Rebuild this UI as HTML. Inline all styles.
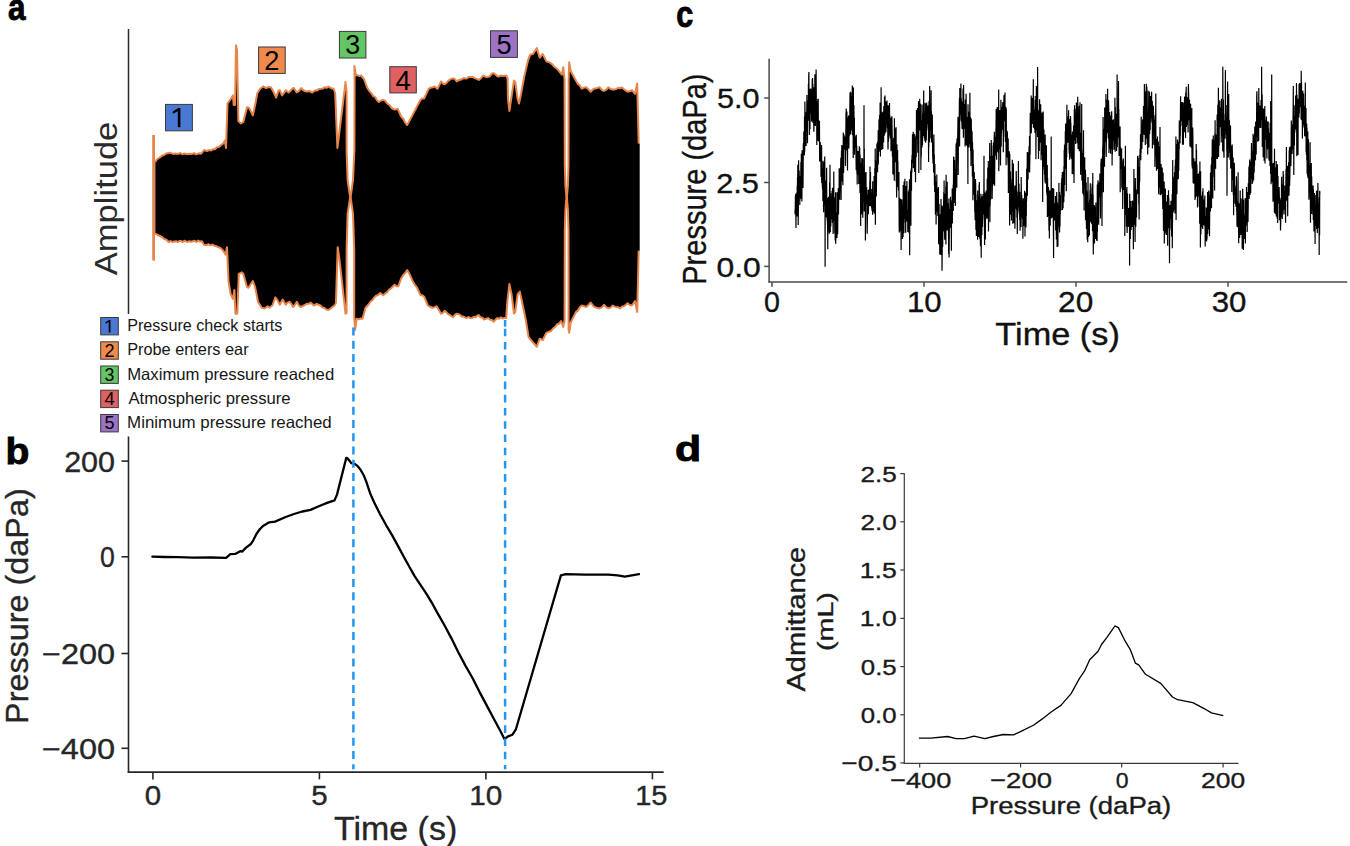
<!DOCTYPE html>
<html><head><meta charset="utf-8"><style>
html,body{margin:0;padding:0;background:#fff;}
svg{display:block;}
text{font-family:"Liberation Sans",sans-serif;}
</style></head><body>
<svg width="1350" height="846" viewBox="0 0 1350 846">
<rect width="1350" height="846" fill="#fff"/>
<polygon points="155.3,162.0 156.8,159.5 159.8,157.5 161.9,155.7 164.0,155.0 166.3,153.4 168.6,153.0 170.2,152.8 171.8,153.4 173.4,154.0 175.0,153.5 176.8,153.7 178.6,153.7 180.4,153.0 182.2,154.3 183.9,153.6 185.7,153.7 187.5,154.3 189.3,153.8 191.0,154.1 192.6,153.8 194.3,153.1 196.0,154.4 197.7,153.9 199.3,153.3 201.0,153.8 204.0,150.0 207.0,151.0 209.0,150.1 211.0,150.4 213.0,149.3 214.9,149.3 216.9,147.3 218.8,147.1 221.1,145.0 223.3,143.4 224.8,140.5 226.0,147.9 227.5,103.5 230.7,99.0 232.9,95.4 233.7,105.0 235.0,105.0 236.0,45.2 237.0,50.0 238.4,121.3 241.0,123.5 243.3,122.0 247.0,107.2 249.2,108.0 252.9,115.4 255.1,105.0 257.3,93.2 260.2,88.8 263.2,86.5 266.2,88.0 268.5,87.0 270.9,87.3 273.1,91.0 276.1,97.6 278.3,91.0 279.8,90.2 282.0,95.4 283.9,93.2 285.7,90.2 288.6,92.5 290.3,91.1 292.1,88.9 293.8,88.0 296.8,92.5 299.0,90.9 301.2,88.0 303.0,90.0 304.9,91.0 307.1,91.4 309.3,91.0 312.3,92.5 315.2,90.2 317.2,90.4 319.1,88.9 321.1,88.8 323.0,88.4 324.8,87.2 326.6,87.8 328.5,86.5 330.2,87.6 332.0,88.6 333.7,88.8 335.2,93.2 337.4,147.9 338.9,136.0 345.5,82.1 346.6,91.7 346.6,150.0 347.6,180.0 350.1,196.8 350.7,196.8 353.0,180.0 354.4,150.0 354.6,80.0 354.4,65.9 355.9,75.5 357.6,75.1 359.3,76.2 361.0,75.5 364.0,79.0 367.0,87.3 369.2,90.9 371.4,93.2 373.2,96.1 375.1,96.9 376.9,100.1 378.8,102.0 381.0,100.5 383.2,99.8 385.0,100.6 387.2,103.5 389.4,105.0 391.6,107.9 393.9,109.4 395.8,109.4 397.6,108.7 401.3,116.8 403.3,118.8 405.2,122.6 407.2,125.0 413.1,113.9 420.5,99.8 422.4,98.5 424.2,98.4 428.6,88.8 430.6,87.6 432.5,87.4 434.5,86.5 437.5,88.8 441.1,81.4 443.0,83.5 444.8,84.3 446.6,82.7 448.5,80.6 450.8,79.0 453.0,78.4 454.9,79.2 456.7,81.4 458.4,80.3 460.1,79.8 461.8,79.2 463.6,78.1 465.4,78.5 467.1,78.2 468.9,76.7 470.7,76.9 472.9,77.0 475.0,78.4 476.9,78.9 478.8,79.9 481.1,77.9 483.3,75.5 485.5,76.8 487.7,77.0 489.7,76.4 491.6,73.8 493.6,73.2 495.5,74.5 497.3,76.2 499.1,76.6 500.9,75.4 502.6,76.0 504.4,75.7 506.2,75.5 507.6,78.5 508.0,99.0 509.4,110.9 511.6,96.0 513.9,80.6 515.3,82.0 517.6,99.0 519.0,103.5 521.2,93.0 524.2,76.9 527.9,60.7 530.1,54.8 533.0,54.0 536.8,48.1 539.7,57.7 542.7,54.0 546.4,61.4 549.3,62.2 552.3,64.4 554.1,66.7 556.0,68.0 557.8,69.6 559.6,71.8 561.9,74.7 563.3,67.3 564.6,80.0 564.8,165.0 565.4,185.0 566.4,196.8 566.9,196.8 567.9,185.0 568.5,165.0 568.6,80.0 569.2,62.2 570.7,71.0 575.9,80.6 577.9,83.9 579.8,85.4 581.8,88.7 584.0,87.6 586.2,87.3 588.5,89.3 590.7,91.7 593.6,88.7 595.6,88.6 597.5,87.9 599.5,87.3 601.8,89.8 604.0,91.0 606.2,89.7 608.4,87.3 610.6,89.1 612.8,89.5 614.6,89.6 616.4,88.9 618.1,87.8 619.9,88.4 621.7,87.3 623.7,89.0 625.6,90.4 627.6,91.7 629.8,91.3 632.0,90.2 635.0,93.9 637.2,83.6 638.7,143.4 639.7,143.4 639.7,250.8 638.7,250.8 637.2,312.1 635.0,301.0 632.0,305.5 629.8,305.0 627.6,303.3 625.8,304.8 623.9,306.3 622.1,306.5 620.2,308.4 618.4,307.3 616.5,307.1 614.6,306.6 612.8,305.5 610.6,307.6 608.4,308.4 606.2,307.1 604.0,304.8 601.8,307.3 599.5,308.4 597.5,308.1 595.6,307.3 593.6,306.3 590.7,302.5 588.5,305.0 586.2,307.0 584.0,306.2 581.8,305.5 579.8,307.3 577.9,310.6 575.9,312.1 570.7,322.5 569.2,332.8 568.6,330.0 568.5,230.0 567.9,210.0 566.9,197.6 566.4,197.6 565.4,210.0 564.8,230.0 564.6,320.0 563.3,326.9 561.1,321.0 559.1,323.7 557.2,324.2 555.2,326.9 553.0,328.5 550.8,331.3 548.6,331.8 546.4,332.8 542.7,340.2 539.7,338.7 536.8,346.8 534.5,344.0 532.3,341.7 530.5,339.5 528.6,337.2 525.7,319.5 522.0,301.8 519.8,291.5 517.6,294.4 515.3,312.1 513.9,313.6 511.6,294.4 509.4,284.1 507.3,302.0 506.2,318.1 504.4,318.1 502.6,318.4 500.9,317.4 499.1,318.8 497.3,318.1 495.5,319.7 493.6,321.8 491.9,319.9 490.1,319.8 488.4,318.1 486.2,318.7 484.0,319.6 482.3,317.5 480.5,317.3 478.8,315.1 477.1,315.7 475.5,317.3 473.9,316.7 472.2,318.1 470.4,318.2 468.5,317.0 466.6,318.2 464.8,317.3 463.2,316.4 461.6,316.5 459.9,314.6 458.3,314.1 456.7,313.7 454.9,314.8 453.0,317.3 450.8,315.7 448.5,314.4 446.6,312.6 444.8,310.7 443.0,312.9 441.1,313.7 436.7,306.3 434.5,307.1 432.3,307.7 430.1,306.8 427.8,305.5 424.2,296.7 422.4,295.3 420.5,295.2 416.8,287.1 415.0,285.1 413.1,281.9 409.4,273.8 407.2,270.1 405.2,273.1 403.3,274.9 401.3,278.2 398.3,286.3 396.5,286.2 394.6,284.8 392.9,286.5 391.1,288.3 389.4,289.3 387.2,292.2 385.0,293.7 383.2,295.2 380.2,293.0 378.2,295.0 376.3,295.6 374.3,297.4 372.3,300.3 370.4,301.8 368.4,304.8 365.5,307.7 362.5,318.8 360.5,318.5 358.6,319.3 356.6,318.8 355.1,329.9 354.2,316.6 354.2,250.0 353.0,214.0 350.7,197.6 350.1,197.6 347.6,214.0 346.6,250.0 346.6,313.0 345.5,313.7 339.6,260.5 337.7,247.2 335.9,303.3 334.4,305.5 332.4,307.0 330.5,308.7 328.5,310.0 326.3,309.5 324.1,307.7 322.2,307.4 320.4,305.5 318.6,304.7 316.7,304.0 313.8,305.5 310.8,302.6 308.8,303.8 306.9,303.8 304.9,304.8 302.7,306.1 300.5,307.0 298.6,305.1 296.8,301.8 295.0,304.7 293.1,307.0 291.2,303.7 289.4,301.8 287.5,302.7 285.7,304.8 282.7,299.6 279.8,304.8 277.6,300.4 275.3,297.4 272.4,305.5 269.4,307.7 267.6,306.3 264.7,308.5 261.7,307.7 258.0,301.8 255.1,287.0 252.9,281.1 250.7,284.2 248.4,287.8 247.0,287.0 243.3,274.0 241.8,272.3 238.8,273.8 237.3,313.7 235.4,313.7 234.4,290.0 232.9,298.9 230.7,294.4 228.5,281.1 227.0,247.2 225.5,254.6 223.3,250.9 220.4,247.9 218.4,247.3 216.4,246.2 214.4,245.7 212.4,244.6 210.5,245.4 208.5,244.2 206.3,245.1 204.1,245.0 201.9,241.3 200.1,241.6 198.3,240.6 196.5,242.0 194.7,240.8 192.9,241.2 191.1,241.8 189.3,241.3 187.7,241.9 186.0,241.5 184.4,240.7 182.7,242.1 181.1,241.0 179.4,241.1 177.8,242.1 176.1,241.2 174.5,241.5 172.5,242.0 170.6,241.1 168.6,242.0 166.4,239.8 164.2,239.0 162.1,237.0 160.0,236.0 156.8,234.5 155.3,233.5" fill="#000" stroke="none"/>
<polyline points="155.3,162.0 156.8,159.5 159.8,157.5 161.9,155.7 164.0,155.0 166.3,153.4 168.6,153.0 170.2,152.8 171.8,153.4 173.4,154.0 175.0,153.5 176.8,153.7 178.6,153.7 180.4,153.0 182.2,154.3 183.9,153.6 185.7,153.7 187.5,154.3 189.3,153.8 191.0,154.1 192.6,153.8 194.3,153.1 196.0,154.4 197.7,153.9 199.3,153.3 201.0,153.8 204.0,150.0 207.0,151.0 209.0,150.1 211.0,150.4 213.0,149.3 214.9,149.3 216.9,147.3 218.8,147.1 221.1,145.0 223.3,143.4 224.8,140.5 226.0,147.9 227.5,103.5 230.7,99.0 232.9,95.4 233.7,105.0 235.0,105.0 236.0,45.2 237.0,50.0 238.4,121.3 241.0,123.5 243.3,122.0 247.0,107.2 249.2,108.0 252.9,115.4 255.1,105.0 257.3,93.2 260.2,88.8 263.2,86.5 266.2,88.0 268.5,87.0 270.9,87.3 273.1,91.0 276.1,97.6 278.3,91.0 279.8,90.2 282.0,95.4 283.9,93.2 285.7,90.2 288.6,92.5 290.3,91.1 292.1,88.9 293.8,88.0 296.8,92.5 299.0,90.9 301.2,88.0 303.0,90.0 304.9,91.0 307.1,91.4 309.3,91.0 312.3,92.5 315.2,90.2 317.2,90.4 319.1,88.9 321.1,88.8 323.0,88.4 324.8,87.2 326.6,87.8 328.5,86.5 330.2,87.6 332.0,88.6 333.7,88.8 335.2,93.2 337.4,147.9 338.9,136.0 345.5,82.1 346.6,91.7 346.6,150.0 347.6,180.0 350.1,196.8 350.7,196.8 353.0,180.0 354.4,150.0 354.6,80.0 354.4,65.9 355.9,75.5 357.6,75.1 359.3,76.2 361.0,75.5 364.0,79.0 367.0,87.3 369.2,90.9 371.4,93.2 373.2,96.1 375.1,96.9 376.9,100.1 378.8,102.0 381.0,100.5 383.2,99.8 385.0,100.6 387.2,103.5 389.4,105.0 391.6,107.9 393.9,109.4 395.8,109.4 397.6,108.7 401.3,116.8 403.3,118.8 405.2,122.6 407.2,125.0 413.1,113.9 420.5,99.8 422.4,98.5 424.2,98.4 428.6,88.8 430.6,87.6 432.5,87.4 434.5,86.5 437.5,88.8 441.1,81.4 443.0,83.5 444.8,84.3 446.6,82.7 448.5,80.6 450.8,79.0 453.0,78.4 454.9,79.2 456.7,81.4 458.4,80.3 460.1,79.8 461.8,79.2 463.6,78.1 465.4,78.5 467.1,78.2 468.9,76.7 470.7,76.9 472.9,77.0 475.0,78.4 476.9,78.9 478.8,79.9 481.1,77.9 483.3,75.5 485.5,76.8 487.7,77.0 489.7,76.4 491.6,73.8 493.6,73.2 495.5,74.5 497.3,76.2 499.1,76.6 500.9,75.4 502.6,76.0 504.4,75.7 506.2,75.5 507.6,78.5 508.0,99.0 509.4,110.9 511.6,96.0 513.9,80.6 515.3,82.0 517.6,99.0 519.0,103.5 521.2,93.0 524.2,76.9 527.9,60.7 530.1,54.8 533.0,54.0 536.8,48.1 539.7,57.7 542.7,54.0 546.4,61.4 549.3,62.2 552.3,64.4 554.1,66.7 556.0,68.0 557.8,69.6 559.6,71.8 561.9,74.7 563.3,67.3 564.6,80.0 564.8,165.0 565.4,185.0 566.4,196.8 566.9,196.8 567.9,185.0 568.5,165.0 568.6,80.0 569.2,62.2 570.7,71.0 575.9,80.6 577.9,83.9 579.8,85.4 581.8,88.7 584.0,87.6 586.2,87.3 588.5,89.3 590.7,91.7 593.6,88.7 595.6,88.6 597.5,87.9 599.5,87.3 601.8,89.8 604.0,91.0 606.2,89.7 608.4,87.3 610.6,89.1 612.8,89.5 614.6,89.6 616.4,88.9 618.1,87.8 619.9,88.4 621.7,87.3 623.7,89.0 625.6,90.4 627.6,91.7 629.8,91.3 632.0,90.2 635.0,93.9 637.2,83.6 638.7,143.4" fill="none" stroke="#e8854b" stroke-width="2.0" stroke-linejoin="round"/>
<polyline points="155.3,233.5 156.8,234.5 160.0,236.0 162.1,237.0 164.2,239.0 166.4,239.8 168.6,242.0 170.6,241.1 172.5,242.0 174.5,241.5 176.1,241.2 177.8,242.1 179.4,241.1 181.1,241.0 182.7,242.1 184.4,240.7 186.0,241.5 187.7,241.9 189.3,241.3 191.1,241.8 192.9,241.2 194.7,240.8 196.5,242.0 198.3,240.6 200.1,241.6 201.9,241.3 204.1,245.0 206.3,245.1 208.5,244.2 210.5,245.4 212.4,244.6 214.4,245.7 216.4,246.2 218.4,247.3 220.4,247.9 223.3,250.9 225.5,254.6 227.0,247.2 228.5,281.1 230.7,294.4 232.9,298.9 234.4,290.0 235.4,313.7 237.3,313.7 238.8,273.8 241.8,272.3 243.3,274.0 247.0,287.0 248.4,287.8 250.7,284.2 252.9,281.1 255.1,287.0 258.0,301.8 261.7,307.7 264.7,308.5 267.6,306.3 269.4,307.7 272.4,305.5 275.3,297.4 277.6,300.4 279.8,304.8 282.7,299.6 285.7,304.8 287.5,302.7 289.4,301.8 291.2,303.7 293.1,307.0 295.0,304.7 296.8,301.8 298.6,305.1 300.5,307.0 302.7,306.1 304.9,304.8 306.9,303.8 308.8,303.8 310.8,302.6 313.8,305.5 316.7,304.0 318.6,304.7 320.4,305.5 322.2,307.4 324.1,307.7 326.3,309.5 328.5,310.0 330.5,308.7 332.4,307.0 334.4,305.5 335.9,303.3 337.7,247.2 339.6,260.5 345.5,313.7 346.6,313.0 346.6,250.0 347.6,214.0 350.1,197.6 350.7,197.6 353.0,214.0 354.2,250.0 354.2,316.6 355.1,329.9 356.6,318.8 358.6,319.3 360.5,318.5 362.5,318.8 365.5,307.7 368.4,304.8 370.4,301.8 372.3,300.3 374.3,297.4 376.3,295.6 378.2,295.0 380.2,293.0 383.2,295.2 385.0,293.7 387.2,292.2 389.4,289.3 391.1,288.3 392.9,286.5 394.6,284.8 396.5,286.2 398.3,286.3 401.3,278.2 403.3,274.9 405.2,273.1 407.2,270.1 409.4,273.8 413.1,281.9 415.0,285.1 416.8,287.1 420.5,295.2 422.4,295.3 424.2,296.7 427.8,305.5 430.1,306.8 432.3,307.7 434.5,307.1 436.7,306.3 441.1,313.7 443.0,312.9 444.8,310.7 446.6,312.6 448.5,314.4 450.8,315.7 453.0,317.3 454.9,314.8 456.7,313.7 458.3,314.1 459.9,314.6 461.6,316.5 463.2,316.4 464.8,317.3 466.6,318.2 468.5,317.0 470.4,318.2 472.2,318.1 473.9,316.7 475.5,317.3 477.1,315.7 478.8,315.1 480.5,317.3 482.3,317.5 484.0,319.6 486.2,318.7 488.4,318.1 490.1,319.8 491.9,319.9 493.6,321.8 495.5,319.7 497.3,318.1 499.1,318.8 500.9,317.4 502.6,318.4 504.4,318.1 506.2,318.1 507.3,302.0 509.4,284.1 511.6,294.4 513.9,313.6 515.3,312.1 517.6,294.4 519.8,291.5 522.0,301.8 525.7,319.5 528.6,337.2 530.5,339.5 532.3,341.7 534.5,344.0 536.8,346.8 539.7,338.7 542.7,340.2 546.4,332.8 548.6,331.8 550.8,331.3 553.0,328.5 555.2,326.9 557.2,324.2 559.1,323.7 561.1,321.0 563.3,326.9 564.6,320.0 564.8,230.0 565.4,210.0 566.4,197.6 566.9,197.6 567.9,210.0 568.5,230.0 568.6,330.0 569.2,332.8 570.7,322.5 575.9,312.1 577.9,310.6 579.8,307.3 581.8,305.5 584.0,306.2 586.2,307.0 588.5,305.0 590.7,302.5 593.6,306.3 595.6,307.3 597.5,308.1 599.5,308.4 601.8,307.3 604.0,304.8 606.2,307.1 608.4,308.4 610.6,307.6 612.8,305.5 614.6,306.6 616.5,307.1 618.4,307.3 620.2,308.4 622.1,306.5 623.9,306.3 625.8,304.8 627.6,303.3 629.8,305.0 632.0,305.5 635.0,301.0 637.2,312.1 638.7,250.8" fill="none" stroke="#e8854b" stroke-width="2.0" stroke-linejoin="round"/>
<line x1="153.6" y1="135" x2="153.6" y2="260.6" stroke="#e8854b" stroke-width="2.8"/>
<line x1="128.5" y1="28.9" x2="128.5" y2="314" stroke="#2b2b2b" stroke-width="1.5"/>
<rect x="165.5" y="104.4" width="26.9" height="26.4" fill="#4a79d4" stroke="#3a3a3a" stroke-width="1"/>
<polygon points="180.4,107.9 180.4,127.3 177.8,127.3 177.8,111.2 172.8,113.7 172.8,111.4 178.3,107.9" fill="#000"/>
<rect x="258.6" y="47.0" width="26.6" height="26.4" fill="#ef8a4c" stroke="#3a3a3a" stroke-width="1"/>
<text x="264.33" y="70.00" font-size="27.22" font-weight="normal" fill="#000">2</text>
<rect x="339.4" y="31.4" width="26.5" height="26.6" fill="#63c563" stroke="#3a3a3a" stroke-width="1"/>
<text x="345.27" y="54.23" font-size="26.84" font-weight="normal" fill="#000">3</text>
<rect x="389.8" y="66.7" width="26.5" height="26.2" fill="#de6262" stroke="#3a3a3a" stroke-width="1"/>
<text x="395.46" y="89.60" font-size="27.62" font-weight="normal" fill="#000">4</text>
<rect x="490.5" y="30.8" width="26.9" height="26.6" fill="#9c72c4" stroke="#3a3a3a" stroke-width="1"/>
<text x="496.41" y="53.63" font-size="27.22" font-weight="normal" fill="#000">5</text>
<rect x="100.7" y="317.5" width="17.6" height="17.4" fill="#4a79d4" stroke="#3a3a3a" stroke-width="1"/>
<polygon points="110.5,320.0 110.5,332.6 108.7,332.6 108.7,322.1 105.5,323.8 105.5,322.3 109.0,320.0" fill="#000"/>
<text x="127.18" y="330.90" font-size="16.72" font-weight="normal" textLength="155.21" lengthAdjust="spacingAndGlyphs" fill="#161616">Pressure check starts</text>
<rect x="100.7" y="341.8" width="17.6" height="17.4" fill="#ef8a4c" stroke="#3a3a3a" stroke-width="1"/>
<text x="104.48" y="356.75" font-size="18.05" font-weight="normal" fill="#000">2</text>
<text x="127.16" y="355.20" font-size="16.72" font-weight="normal" textLength="121.41" lengthAdjust="spacingAndGlyphs" fill="#161616">Probe enters ear</text>
<rect x="100.7" y="366.0" width="17.6" height="17.4" fill="#63c563" stroke="#3a3a3a" stroke-width="1"/>
<text x="104.61" y="380.82" font-size="17.80" font-weight="normal" fill="#000">3</text>
<text x="127.13" y="379.50" font-size="16.72" font-weight="normal" textLength="207.05" lengthAdjust="spacingAndGlyphs" fill="#161616">Maximum pressure reached</text>
<rect x="100.7" y="390.2" width="17.6" height="17.4" fill="#de6262" stroke="#3a3a3a" stroke-width="1"/>
<text x="104.46" y="405.25" font-size="18.31" font-weight="normal" fill="#000">4</text>
<text x="128.47" y="403.80" font-size="16.72" font-weight="normal" textLength="162.17" lengthAdjust="spacingAndGlyphs" fill="#161616">Atmospheric pressure</text>
<rect x="100.7" y="414.5" width="17.6" height="17.4" fill="#9c72c4" stroke="#3a3a3a" stroke-width="1"/>
<text x="104.50" y="429.32" font-size="18.05" font-weight="normal" fill="#000">5</text>
<text x="127.12" y="428.10" font-size="16.72" font-weight="normal" textLength="204.56" lengthAdjust="spacingAndGlyphs" fill="#161616">Minimum pressure reached</text>
<text transform="translate(116.70,275.10) rotate(-90)" x="-0.07" y="0" font-size="31.86" font-weight="normal" textLength="153.48" lengthAdjust="spacingAndGlyphs" fill="#2a2a2a">Amplitude</text>
<text x="7.89" y="20.20" font-size="37.17" font-weight="bold" textLength="17.50" lengthAdjust="spacingAndGlyphs" fill="#000" stroke="#000" stroke-width="0.9">a</text>
<text x="5.62" y="463.60" font-size="36.69" font-weight="bold" textLength="23.88" lengthAdjust="spacingAndGlyphs" fill="#000" stroke="#000" stroke-width="0.9">b</text>
<text x="676.21" y="26.90" font-size="36.25" font-weight="bold" textLength="16.98" lengthAdjust="spacingAndGlyphs" fill="#000" stroke="#000" stroke-width="0.9">c</text>
<text x="675.14" y="460.90" font-size="34.48" font-weight="bold" textLength="26.18" lengthAdjust="spacingAndGlyphs" fill="#000" stroke="#000" stroke-width="0.9">d</text>
<line x1="128.5" y1="436.4" x2="128.5" y2="772.8" stroke="#262626" stroke-width="1.6"/>
<line x1="127.7" y1="772.1" x2="663.7" y2="772.1" stroke="#262626" stroke-width="1.6"/>
<line x1="121.5" y1="461.1" x2="128.5" y2="461.1" stroke="#262626" stroke-width="1.6"/>
<line x1="121.5" y1="556.8" x2="128.5" y2="556.8" stroke="#262626" stroke-width="1.6"/>
<line x1="121.5" y1="653.5" x2="128.5" y2="653.5" stroke="#262626" stroke-width="1.6"/>
<line x1="121.5" y1="748.3" x2="128.5" y2="748.3" stroke="#262626" stroke-width="1.6"/>
<text x="64.18" y="471.50" font-size="28.94" font-weight="normal" textLength="50.83" lengthAdjust="spacingAndGlyphs" fill="#262626" stroke="#262626" stroke-width="0.35">200</text>
<text x="100.06" y="567.20" font-size="28.94" font-weight="normal" textLength="14.78" lengthAdjust="spacingAndGlyphs" fill="#262626" stroke="#262626" stroke-width="0.35">0</text>
<text x="42.01" y="663.90" font-size="28.94" font-weight="normal" textLength="73.07" lengthAdjust="spacingAndGlyphs" fill="#262626" stroke="#262626" stroke-width="0.35">−200</text>
<text x="41.91" y="758.70" font-size="28.94" font-weight="normal" textLength="73.17" lengthAdjust="spacingAndGlyphs" fill="#262626" stroke="#262626" stroke-width="0.35">−400</text>
<line x1="152.9" y1="772.1" x2="152.9" y2="779.4" stroke="#262626" stroke-width="1.6"/>
<text x="144.75" y="805.00" font-size="26.93" font-weight="normal" textLength="16.41" lengthAdjust="spacingAndGlyphs" fill="#262626" stroke="#262626" stroke-width="0.35">0</text>
<line x1="319.4" y1="772.1" x2="319.4" y2="779.4" stroke="#262626" stroke-width="1.6"/>
<text x="311.22" y="805.00" font-size="26.93" font-weight="normal" textLength="16.43" lengthAdjust="spacingAndGlyphs" fill="#262626" stroke="#262626" stroke-width="0.35">5</text>
<line x1="485.9" y1="772.1" x2="485.9" y2="779.4" stroke="#262626" stroke-width="1.6"/>
<text x="469.24" y="805.00" font-size="26.93" font-weight="normal" textLength="33.14" lengthAdjust="spacingAndGlyphs" fill="#262626" stroke="#262626" stroke-width="0.35">10</text>
<line x1="652.4" y1="772.1" x2="652.4" y2="779.4" stroke="#262626" stroke-width="1.6"/>
<text x="635.19" y="805.00" font-size="26.93" font-weight="normal" textLength="32.34" lengthAdjust="spacingAndGlyphs" fill="#262626" stroke="#262626" stroke-width="0.35">15</text>
<text x="334.05" y="839.70" font-size="32.99" font-weight="normal" textLength="123.15" lengthAdjust="spacingAndGlyphs" fill="#262626" stroke="#262626" stroke-width="0.35">Time (s)</text>
<text transform="translate(28.00,721.30) rotate(-90)" x="-2.65" y="0" font-size="32.12" font-weight="normal" textLength="235.66" lengthAdjust="spacingAndGlyphs" fill="#262626" stroke="#262626" stroke-width="0.35">Pressure (daPa)</text>
<polyline points="152.4,556.7 165.0,557.0 178.1,557.2 193.0,557.6 211.2,557.5 226.1,557.9 230.3,554.2 235.2,553.9 240.2,551.2 242.0,551.7 246.0,547.6 250.9,544.0 253.4,540.1 256.7,533.5 260.0,529.0 263.4,525.7 269.2,522.3 275.0,521.6 285.7,517.0 294.0,514.0 302.3,511.5 310.5,509.9 318.8,506.2 327.1,502.9 334.5,500.4 337.0,494.6 346.3,457.8 347.5,458.3 351.3,463.1 354.7,463.9 357.7,466.1 360.7,470.0 363.7,475.2 366.1,481.1 370.1,493.2 374.1,502.2 380.1,514.3 386.2,525.3 392.2,535.4 398.2,546.4 404.2,557.5 410.3,568.5 414.3,575.6 420.3,584.6 426.3,593.6 432.4,603.7 437.1,612.4 444.2,624.8 451.3,638.1 458.3,652.3 465.4,665.6 472.5,678.0 479.6,692.1 486.7,705.4 493.8,718.7 500.9,732.0 504.4,739.1 508.0,736.4 512.4,734.7 515.9,729.3 560.9,575.4 565.7,574.2 584.6,574.7 608.2,574.7 617.7,575.4 624.8,576.6 631.9,575.4 639.0,574.2" fill="none" stroke="#000" stroke-width="2.3" stroke-linejoin="round" stroke-linecap="round"/>
<line x1="769.1" y1="58.8" x2="769.1" y2="282.6" stroke="#4a4a4a" stroke-width="1.5"/>
<line x1="768.4" y1="282.0" x2="1347.3" y2="282.0" stroke="#4a4a4a" stroke-width="1.5"/>
<line x1="764.2" y1="98.0" x2="769.1" y2="98.0" stroke="#4a4a4a" stroke-width="1.5"/>
<text x="717.08" y="108.20" font-size="28.08" font-weight="normal" textLength="42.52" lengthAdjust="spacingAndGlyphs" fill="#111" stroke="#111" stroke-width="0.35">5.0</text>
<line x1="764.2" y1="182.5" x2="769.1" y2="182.5" stroke="#4a4a4a" stroke-width="1.5"/>
<text x="716.16" y="192.70" font-size="28.08" font-weight="normal" textLength="42.73" lengthAdjust="spacingAndGlyphs" fill="#111" stroke="#111" stroke-width="0.35">2.5</text>
<line x1="764.2" y1="266.4" x2="769.1" y2="266.4" stroke="#4a4a4a" stroke-width="1.5"/>
<text x="716.46" y="276.60" font-size="28.08" font-weight="normal" textLength="44.29" lengthAdjust="spacingAndGlyphs" fill="#111" stroke="#111" stroke-width="0.35">0.0</text>
<line x1="772.0" y1="282" x2="772.0" y2="286.8" stroke="#4a4a4a" stroke-width="1.5"/>
<text x="763.98" y="311.50" font-size="28.94" font-weight="normal" textLength="15.94" lengthAdjust="spacingAndGlyphs" fill="#111" stroke="#111" stroke-width="0.35">0</text>
<line x1="924.0" y1="282" x2="924.0" y2="286.8" stroke="#4a4a4a" stroke-width="1.5"/>
<text x="906.93" y="311.50" font-size="28.94" font-weight="normal" textLength="34.70" lengthAdjust="spacingAndGlyphs" fill="#111" stroke="#111" stroke-width="0.35">10</text>
<line x1="1076.0" y1="282" x2="1076.0" y2="286.8" stroke="#4a4a4a" stroke-width="1.5"/>
<text x="1058.12" y="311.50" font-size="28.94" font-weight="normal" textLength="35.12" lengthAdjust="spacingAndGlyphs" fill="#111" stroke="#111" stroke-width="0.35">20</text>
<line x1="1228.0" y1="282" x2="1228.0" y2="286.8" stroke="#4a4a4a" stroke-width="1.5"/>
<text x="1211.71" y="311.50" font-size="28.94" font-weight="normal" textLength="34.71" lengthAdjust="spacingAndGlyphs" fill="#111" stroke="#111" stroke-width="0.35">30</text>
<text x="995.35" y="344.70" font-size="31.83" font-weight="normal" textLength="124.48" lengthAdjust="spacingAndGlyphs" fill="#111" stroke="#111" stroke-width="0.35">Time (s)</text>
<text transform="translate(705.70,282.40) rotate(-90)" x="-2.38" y="0" font-size="32.41" font-weight="normal" textLength="211.27" lengthAdjust="spacingAndGlyphs" fill="#111" stroke="#111" stroke-width="0.35">Pressure (daPa)</text>
<polyline points="795.0,210.2 795.1,214.4 795.3,205.4 795.4,195.9 795.6,202.1 795.7,193.7 795.8,209.2 796.0,228.1 796.1,200.4 796.3,198.2 796.4,214.6 796.5,212.4 796.7,208.4 796.8,192.6 797.0,205.9 797.1,216.6 797.2,185.8 797.4,199.0 797.5,177.2 797.7,186.2 797.8,164.8 797.9,200.4 798.1,183.7 798.2,224.9 798.4,202.7 798.5,196.4 798.6,160.3 798.8,188.8 798.9,195.0 799.1,196.3 799.2,170.5 799.3,185.2 799.5,176.5 799.6,178.0 799.8,205.0 799.9,175.9 800.0,186.5 800.2,199.2 800.3,176.1 800.5,182.1 800.6,195.9 800.7,182.6 800.9,162.1 801.0,180.5 801.2,198.6 801.3,153.7 801.4,188.6 801.6,176.1 801.7,163.3 801.9,201.5 802.0,181.4 802.1,150.3 802.3,167.8 802.4,173.6 802.6,160.3 802.7,171.6 802.8,158.5 803.0,188.1 803.1,177.2 803.3,143.5 803.4,154.7 803.5,142.7 803.7,149.6 803.8,131.4 804.0,135.1 804.1,138.9 804.2,153.5 804.4,155.4 804.5,116.6 804.7,151.7 804.8,142.7 804.9,101.5 805.1,122.9 805.2,126.9 805.4,145.7 805.5,135.8 805.6,119.1 805.8,117.1 805.9,117.6 806.1,145.9 806.2,112.2 806.3,112.7 806.5,121.2 806.6,112.8 806.8,110.2 806.9,95.0 807.0,110.1 807.2,102.2 807.3,125.4 807.5,143.3 807.6,106.5 807.7,116.4 807.9,100.7 808.0,121.0 808.2,118.1 808.3,112.8 808.4,84.2 808.6,108.3 808.7,77.3 808.9,71.9 809.0,97.4 809.1,88.2 809.3,104.0 809.4,135.1 809.6,89.0 809.7,92.2 809.8,104.8 810.0,129.2 810.1,99.6 810.3,99.5 810.4,113.5 810.5,111.2 810.7,88.4 810.8,103.2 811.0,105.4 811.1,89.6 811.2,109.8 811.4,93.5 811.5,121.5 811.7,110.3 811.8,109.2 811.9,99.4 812.1,106.9 812.2,79.1 812.4,92.4 812.5,115.1 812.6,77.9 812.8,122.8 812.9,84.0 813.1,121.7 813.2,95.9 813.3,122.1 813.5,112.3 813.6,87.3 813.8,129.0 813.9,131.8 814.0,109.0 814.2,105.7 814.3,107.2 814.5,94.7 814.6,125.6 814.7,100.7 814.9,74.3 815.0,96.3 815.2,98.5 815.3,88.4 815.4,126.1 815.6,104.6 815.7,121.6 815.9,107.9 816.0,97.9 816.1,69.6 816.3,101.2 816.4,110.4 816.6,105.5 816.7,107.5 816.8,145.0 817.0,101.7 817.1,139.7 817.3,105.9 817.4,101.3 817.5,123.4 817.7,140.7 817.8,99.1 818.0,119.1 818.1,114.2 818.2,98.8 818.4,137.7 818.5,127.9 818.7,141.4 818.8,120.2 818.9,139.9 819.1,126.7 819.2,134.3 819.4,121.5 819.5,121.6 819.6,161.6 819.8,147.7 819.9,149.4 820.1,146.3 820.2,142.0 820.3,142.7 820.5,161.6 820.6,149.3 820.8,153.3 820.9,157.7 821.0,176.7 821.2,170.9 821.3,168.1 821.5,155.6 821.6,145.0 821.7,181.5 821.9,183.3 822.0,168.2 822.2,179.9 822.3,184.9 822.4,187.0 822.6,189.7 822.7,170.3 822.9,201.1 823.0,160.8 823.1,193.6 823.3,189.3 823.4,196.1 823.6,212.3 823.7,207.6 823.8,169.2 824.0,162.2 824.1,196.5 824.3,174.7 824.4,191.0 824.5,205.0 824.7,156.6 824.8,163.3 825.0,200.2 825.1,266.8 825.2,195.3 825.4,201.0 825.5,188.9 825.7,180.5 825.8,202.2 825.9,191.5 826.1,182.8 826.2,216.5 826.4,209.3 826.5,217.6 826.6,167.7 826.8,204.2 826.9,200.3 827.1,201.4 827.2,220.4 827.3,206.7 827.5,224.1 827.6,224.0 827.8,249.3 827.9,198.1 828.0,232.3 828.2,217.6 828.3,218.6 828.5,196.8 828.6,211.4 828.7,229.2 828.9,216.5 829.0,218.6 829.2,212.6 829.3,233.8 829.4,215.6 829.6,182.4 829.7,204.4 829.9,184.6 830.0,164.7 830.1,204.9 830.3,232.2 830.4,212.2 830.6,193.3 830.7,196.1 830.8,226.6 831.0,211.4 831.1,207.8 831.3,207.2 831.4,208.2 831.5,219.3 831.7,215.2 831.8,209.9 832.0,190.9 832.1,214.2 832.2,196.2 832.4,223.0 832.5,187.7 832.7,204.9 832.8,207.2 832.9,187.7 833.1,233.9 833.2,230.4 833.4,202.0 833.5,221.1 833.6,215.8 833.8,171.5 833.9,215.1 834.1,211.1 834.2,213.9 834.3,197.2 834.5,210.0 834.6,212.1 834.8,233.3 834.9,221.2 835.0,216.7 835.2,240.5 835.3,209.9 835.5,213.1 835.6,192.3 835.7,243.8 835.9,234.5 836.0,233.3 836.2,229.2 836.3,220.3 836.4,221.3 836.6,213.7 836.7,213.8 836.9,216.9 837.0,238.0 837.1,192.2 837.3,212.6 837.4,203.8 837.6,201.8 837.7,234.2 837.8,216.5 838.0,208.6 838.1,200.9 838.3,187.9 838.4,202.0 838.5,214.4 838.7,193.7 838.8,194.4 839.0,192.6 839.1,195.7 839.2,168.3 839.4,186.7 839.5,175.5 839.7,199.7 839.8,173.0 839.9,191.3 840.1,169.4 840.2,174.4 840.4,168.4 840.5,178.6 840.6,174.1 840.8,157.7 840.9,178.1 841.1,200.0 841.2,164.6 841.3,164.2 841.5,150.4 841.6,169.7 841.8,145.1 841.9,146.1 842.0,180.9 842.2,147.1 842.3,176.0 842.5,181.7 842.6,161.7 842.7,165.2 842.9,185.2 843.0,151.9 843.2,145.0 843.3,132.6 843.4,152.4 843.6,173.0 843.7,164.1 843.9,134.5 844.0,134.7 844.1,138.9 844.3,149.7 844.4,141.1 844.6,146.3 844.7,146.5 844.8,136.4 845.0,139.2 845.1,141.9 845.3,136.6 845.4,145.4 845.5,165.9 845.7,146.7 845.8,138.6 846.0,112.5 846.1,143.5 846.2,108.5 846.4,116.5 846.5,150.4 846.7,148.1 846.8,135.1 846.9,111.6 847.1,131.6 847.2,126.8 847.4,146.3 847.5,170.4 847.6,139.4 847.8,124.2 847.9,117.9 848.1,134.2 848.2,131.9 848.3,116.7 848.5,135.1 848.6,115.4 848.8,148.6 848.9,147.0 849.0,127.5 849.2,122.3 849.3,136.2 849.5,125.5 849.6,120.7 849.7,120.4 849.9,105.0 850.0,92.5 850.2,134.3 850.3,118.5 850.4,123.7 850.6,134.5 850.7,92.6 850.9,92.8 851.0,119.5 851.1,122.1 851.3,109.9 851.4,130.4 851.6,117.7 851.7,96.0 851.8,100.0 852.0,125.9 852.1,120.8 852.3,85.5 852.4,134.5 852.5,123.6 852.7,135.3 852.8,131.9 853.0,111.9 853.1,101.2 853.2,157.9 853.4,87.4 853.5,147.6 853.7,116.2 853.8,130.5 853.9,105.1 854.1,126.5 854.2,149.2 854.4,117.7 854.5,154.7 854.6,145.6 854.8,137.8 854.9,136.9 855.1,139.3 855.2,147.1 855.3,141.4 855.5,138.5 855.6,147.7 855.8,138.2 855.9,135.4 856.0,155.1 856.2,170.1 856.3,134.8 856.5,158.6 856.6,149.6 856.7,145.4 856.9,173.5 857.0,153.5 857.2,184.4 857.3,150.8 857.4,168.8 857.6,160.2 857.7,152.9 857.9,173.6 858.0,163.1 858.1,175.1 858.3,166.0 858.4,151.1 858.6,166.6 858.7,169.6 858.8,184.0 859.0,156.9 859.1,170.7 859.3,146.3 859.4,182.8 859.5,157.7 859.7,147.7 859.8,174.8 860.0,193.1 860.1,154.5 860.2,161.9 860.4,167.9 860.5,162.9 860.7,225.9 860.8,169.2 860.9,171.2 861.1,191.4 861.2,172.0 861.4,214.5 861.5,169.9 861.6,166.8 861.8,158.0 861.9,213.9 862.1,181.7 862.2,190.7 862.3,187.1 862.5,190.5 862.6,158.6 862.8,217.8 862.9,174.2 863.0,167.0 863.2,174.9 863.3,169.9 863.5,201.1 863.6,202.2 863.7,175.5 863.9,169.3 864.0,105.3 864.2,211.6 864.3,148.8 864.4,199.5 864.6,176.1 864.7,208.5 864.9,177.4 865.0,190.1 865.1,172.6 865.3,181.4 865.4,240.5 865.6,210.1 865.7,192.7 865.8,186.5 866.0,172.0 866.1,195.4 866.3,201.6 866.4,201.6 866.5,202.1 866.7,187.3 866.8,203.7 867.0,204.6 867.1,224.9 867.2,233.8 867.4,217.4 867.5,194.7 867.7,205.2 867.8,197.0 867.9,194.9 868.1,204.9 868.2,189.9 868.4,214.3 868.5,203.3 868.6,208.3 868.8,201.4 868.9,192.9 869.1,189.2 869.2,199.5 869.3,194.5 869.5,206.0 869.6,202.3 869.8,181.8 869.9,203.3 870.0,166.4 870.2,193.2 870.3,198.3 870.5,171.9 870.6,204.8 870.7,206.2 870.9,202.2 871.0,198.8 871.2,200.3 871.3,192.0 871.4,203.3 871.6,199.0 871.7,208.6 871.9,189.1 872.0,210.7 872.1,209.2 872.3,204.8 872.4,200.1 872.6,214.7 872.7,181.2 872.8,212.7 873.0,209.0 873.1,209.1 873.3,210.0 873.4,193.7 873.5,198.9 873.7,211.4 873.8,207.4 874.0,203.0 874.1,176.0 874.2,205.6 874.4,213.7 874.5,209.9 874.7,196.8 874.8,168.3 874.9,204.2 875.1,186.1 875.2,148.5 875.4,224.8 875.5,160.2 875.6,161.2 875.8,169.1 875.9,195.7 876.1,168.9 876.2,176.5 876.3,196.6 876.5,181.3 876.6,164.8 876.8,160.8 876.9,143.6 877.0,150.3 877.2,165.4 877.3,163.3 877.5,157.5 877.6,172.3 877.7,141.5 877.9,150.9 878.0,161.6 878.2,130.2 878.3,164.5 878.4,153.4 878.6,141.9 878.7,151.1 878.9,129.8 879.0,119.3 879.1,151.8 879.3,141.4 879.4,146.0 879.6,115.0 879.7,134.0 879.8,129.5 880.0,124.5 880.1,102.6 880.3,130.4 880.4,156.4 880.5,138.9 880.7,123.0 880.8,130.7 881.0,141.1 881.1,87.2 881.2,125.7 881.4,134.7 881.5,135.7 881.7,150.0 881.8,140.6 881.9,127.4 882.1,126.4 882.2,133.0 882.4,112.3 882.5,119.1 882.6,133.0 882.8,149.0 882.9,117.4 883.1,119.3 883.2,111.5 883.3,140.5 883.5,120.0 883.6,142.5 883.8,106.0 883.9,117.7 884.0,117.4 884.2,132.0 884.3,135.7 884.5,97.1 884.6,105.7 884.7,124.2 884.9,108.9 885.0,95.5 885.2,133.6 885.3,125.0 885.4,124.5 885.6,109.6 885.7,131.8 885.9,112.4 886.0,132.1 886.1,101.6 886.3,102.2 886.4,117.8 886.6,104.0 886.7,124.6 886.8,104.7 887.0,100.5 887.1,115.4 887.3,109.2 887.4,128.3 887.5,105.4 887.7,108.6 887.8,133.7 888.0,149.5 888.1,146.5 888.2,118.0 888.4,121.0 888.5,141.4 888.7,117.3 888.8,105.3 888.9,122.6 889.1,128.5 889.2,110.2 889.4,128.1 889.5,103.1 889.6,135.5 889.8,115.1 889.9,125.3 890.1,131.4 890.2,138.4 890.3,130.6 890.5,138.0 890.6,117.7 890.8,126.2 890.9,117.6 891.0,151.3 891.2,135.1 891.3,125.5 891.5,132.3 891.6,135.2 891.7,149.9 891.9,116.2 892.0,125.2 892.2,135.7 892.3,139.5 892.4,156.7 892.6,141.1 892.7,153.8 892.9,174.3 893.0,140.3 893.1,157.3 893.3,162.6 893.4,152.2 893.6,155.3 893.7,138.0 893.8,174.9 894.0,172.3 894.1,155.7 894.3,180.7 894.4,118.2 894.5,158.9 894.7,147.3 894.8,157.6 895.0,162.3 895.1,147.9 895.2,128.8 895.4,160.8 895.5,145.4 895.7,152.8 895.8,127.5 895.9,155.3 896.1,127.2 896.2,181.5 896.4,168.6 896.5,183.0 896.6,197.6 896.8,169.9 896.9,144.2 897.1,159.5 897.2,156.6 897.3,168.9 897.5,179.5 897.6,150.1 897.8,187.1 897.9,161.2 898.0,179.6 898.2,186.0 898.3,184.9 898.5,190.4 898.6,185.3 898.7,186.2 898.9,172.0 899.0,198.7 899.2,228.6 899.3,232.5 899.4,224.4 899.6,216.9 899.7,197.8 899.9,231.2 900.0,211.8 900.1,211.6 900.3,209.5 900.4,215.7 900.6,208.1 900.7,213.7 900.8,199.0 901.0,209.9 901.1,249.9 901.3,214.8 901.4,212.4 901.5,224.1 901.7,226.7 901.8,199.4 902.0,213.0 902.1,229.8 902.2,220.0 902.4,217.6 902.5,238.9 902.7,205.2 902.8,216.3 902.9,207.0 903.1,236.9 903.2,184.9 903.4,203.8 903.5,205.5 903.6,223.1 903.8,221.8 903.9,233.3 904.1,181.6 904.2,222.8 904.3,206.8 904.5,204.2 904.6,218.6 904.8,196.3 904.9,178.7 905.0,204.0 905.2,204.5 905.3,199.5 905.5,214.6 905.6,213.7 905.7,232.8 905.9,206.0 906.0,186.1 906.2,197.9 906.3,195.6 906.4,191.4 906.6,216.5 906.7,200.6 906.9,181.0 907.0,221.4 907.1,209.7 907.3,217.1 907.4,213.8 907.6,222.1 907.7,213.6 907.8,232.0 908.0,220.2 908.1,220.0 908.3,220.1 908.4,191.4 908.5,196.8 908.7,207.8 908.8,213.9 909.0,189.4 909.1,233.2 909.2,209.0 909.4,188.0 909.5,179.2 909.7,255.3 909.8,200.5 909.9,189.4 910.1,199.9 910.2,187.1 910.4,203.2 910.5,182.2 910.6,171.3 910.8,203.8 910.9,225.7 911.1,170.0 911.2,176.1 911.3,168.4 911.5,190.8 911.6,159.7 911.8,167.7 911.9,172.5 912.0,156.4 912.2,154.8 912.3,160.3 912.5,134.2 912.6,142.3 912.7,156.2 912.9,163.2 913.0,156.8 913.2,131.8 913.3,150.3 913.4,168.1 913.6,163.5 913.7,153.1 913.9,140.2 914.0,162.2 914.1,143.3 914.3,133.8 914.4,138.7 914.6,171.9 914.7,152.8 914.8,166.3 915.0,141.0 915.1,161.6 915.3,137.7 915.4,143.6 915.5,182.3 915.7,155.5 915.8,135.4 916.0,140.5 916.1,145.4 916.2,157.3 916.4,130.4 916.5,110.0 916.7,130.4 916.8,133.2 916.9,132.9 917.1,134.8 917.2,132.6 917.4,138.4 917.5,108.0 917.6,135.9 917.8,152.8 917.9,131.4 918.1,122.2 918.2,119.4 918.3,142.7 918.5,100.9 918.6,112.1 918.8,173.0 918.9,124.0 919.0,106.6 919.2,118.1 919.3,109.8 919.5,116.3 919.6,113.1 919.7,98.7 919.9,116.2 920.0,130.4 920.2,103.5 920.3,115.2 920.4,129.6 920.6,104.3 920.7,123.7 920.9,170.1 921.0,139.3 921.1,157.4 921.3,154.5 921.4,120.3 921.6,135.0 921.7,125.9 921.8,125.7 922.0,147.5 922.1,104.4 922.3,140.0 922.4,123.3 922.5,145.0 922.7,126.5 922.8,113.4 923.0,127.5 923.1,134.2 923.2,123.5 923.4,130.1 923.5,114.9 923.7,90.6 923.8,136.1 923.9,133.1 924.1,124.8 924.2,123.7 924.4,138.4 924.5,116.1 924.6,112.5 924.8,120.5 924.9,141.3 925.1,102.8 925.2,136.5 925.3,114.2 925.5,107.4 925.6,142.7 925.8,122.3 925.9,104.1 926.0,117.9 926.2,136.9 926.3,140.4 926.5,115.6 926.6,127.5 926.7,102.4 926.9,110.2 927.0,124.3 927.2,117.6 927.3,109.0 927.4,108.6 927.6,115.9 927.7,114.8 927.9,105.6 928.0,107.4 928.1,130.3 928.3,116.6 928.4,126.5 928.6,162.1 928.7,122.0 928.8,147.3 929.0,101.0 929.1,125.7 929.3,109.1 929.4,142.1 929.5,140.2 929.7,85.9 929.8,101.3 930.0,126.4 930.1,129.0 930.2,129.0 930.4,117.8 930.5,126.6 930.7,130.6 930.8,120.7 930.9,138.3 931.1,90.2 931.2,134.9 931.4,111.2 931.5,142.5 931.6,126.1 931.8,117.8 931.9,138.3 932.1,120.7 932.2,127.1 932.3,114.4 932.5,139.4 932.6,149.2 932.8,159.1 932.9,143.7 933.0,163.6 933.2,150.3 933.3,150.8 933.5,162.9 933.6,172.4 933.7,153.7 933.9,134.5 934.0,160.8 934.2,166.7 934.3,154.2 934.4,185.3 934.6,166.0 934.7,192.0 934.9,163.9 935.0,183.7 935.1,186.2 935.3,176.0 935.4,214.6 935.6,191.8 935.7,214.7 935.8,204.2 936.0,181.7 936.1,224.6 936.3,201.6 936.4,197.7 936.5,199.1 936.7,195.7 936.8,174.4 937.0,199.7 937.1,189.9 937.2,211.7 937.4,196.7 937.5,198.4 937.7,207.3 937.8,216.1 937.9,191.9 938.1,188.6 938.2,200.3 938.4,187.1 938.5,204.6 938.6,244.3 938.8,206.0 938.9,232.9 939.1,203.9 939.2,230.2 939.3,222.2 939.5,226.6 939.6,236.4 939.8,254.5 939.9,231.3 940.0,230.5 940.2,214.2 940.3,237.7 940.5,225.3 940.6,241.5 940.7,228.3 940.9,254.9 941.0,198.9 941.2,223.9 941.3,241.2 941.4,222.3 941.6,215.2 941.7,222.6 941.9,205.3 942.0,270.7 942.1,261.3 942.3,241.1 942.4,206.6 942.6,209.3 942.7,246.8 942.8,235.8 943.0,207.6 943.1,208.7 943.3,231.5 943.4,230.4 943.5,211.0 943.7,199.1 943.8,191.9 944.0,204.0 944.1,180.4 944.2,224.5 944.4,203.3 944.5,219.4 944.7,239.8 944.8,229.0 944.9,193.8 945.1,223.9 945.2,228.0 945.4,199.3 945.5,196.2 945.6,208.8 945.8,186.5 945.9,244.6 946.1,174.7 946.2,194.4 946.3,207.2 946.5,208.2 946.6,214.4 946.8,216.4 946.9,209.6 947.0,230.4 947.2,181.8 947.3,214.4 947.5,204.3 947.6,217.7 947.7,219.7 947.9,203.3 948.0,208.1 948.2,230.3 948.3,224.3 948.4,209.6 948.6,251.0 948.7,254.3 948.9,198.4 949.0,224.6 949.1,257.4 949.3,231.2 949.4,222.4 949.6,215.5 949.7,210.1 949.8,214.5 950.0,208.9 950.1,227.8 950.3,224.9 950.4,208.8 950.5,196.7 950.7,213.3 950.8,200.0 951.0,210.0 951.1,227.6 951.2,216.7 951.4,250.8 951.5,214.9 951.7,209.5 951.8,205.8 951.9,202.1 952.1,217.1 952.2,188.4 952.4,223.6 952.5,202.8 952.6,189.8 952.8,192.4 952.9,188.2 953.1,199.3 953.2,184.7 953.3,211.0 953.5,180.6 953.6,156.5 953.8,177.9 953.9,157.0 954.0,184.8 954.2,199.5 954.3,191.5 954.5,159.9 954.6,166.7 954.7,203.0 954.9,179.3 955.0,172.8 955.2,186.8 955.3,206.0 955.4,187.0 955.6,191.2 955.7,169.6 955.9,172.0 956.0,152.0 956.1,143.9 956.3,159.1 956.4,142.6 956.6,154.5 956.7,155.5 956.8,187.8 957.0,138.5 957.1,148.0 957.3,146.0 957.4,153.7 957.5,161.4 957.7,136.9 957.8,130.5 958.0,116.8 958.1,126.0 958.2,174.9 958.4,137.5 958.5,120.0 958.7,128.1 958.8,132.5 958.9,138.0 959.1,119.9 959.2,123.4 959.4,98.3 959.5,106.6 959.6,146.6 959.8,87.9 959.9,114.0 960.1,120.8 960.2,110.4 960.3,102.4 960.5,112.8 960.6,113.0 960.8,111.2 960.9,83.6 961.0,109.0 961.2,97.9 961.3,102.0 961.5,113.2 961.6,119.1 961.7,122.6 961.9,101.4 962.0,128.5 962.2,126.1 962.3,125.4 962.4,129.2 962.6,106.3 962.7,106.0 962.9,121.2 963.0,88.6 963.1,112.6 963.3,122.7 963.4,137.7 963.6,84.9 963.7,98.3 963.8,112.1 964.0,126.5 964.1,128.8 964.3,113.6 964.4,112.8 964.5,104.1 964.7,123.5 964.8,114.7 965.0,128.4 965.1,146.5 965.2,116.1 965.4,99.4 965.5,109.8 965.7,101.6 965.8,106.2 965.9,144.4 966.1,93.8 966.2,103.1 966.4,136.1 966.5,145.6 966.6,121.6 966.8,117.1 966.9,122.4 967.1,131.9 967.2,137.3 967.3,145.4 967.5,145.9 967.6,145.4 967.8,147.9 967.9,183.9 968.0,104.2 968.2,125.1 968.3,131.5 968.5,120.8 968.6,140.0 968.7,120.6 968.9,111.8 969.0,147.4 969.2,136.4 969.3,130.3 969.4,141.6 969.6,144.3 969.7,134.1 969.9,92.8 970.0,120.2 970.1,124.2 970.3,117.0 970.4,135.4 970.6,151.1 970.7,126.7 970.8,117.8 971.0,166.1 971.1,129.9 971.3,119.2 971.4,142.3 971.5,146.3 971.7,130.6 971.8,154.4 972.0,136.8 972.1,131.8 972.2,150.1 972.4,176.6 972.5,141.7 972.7,158.3 972.8,154.1 972.9,200.2 973.1,149.6 973.2,183.4 973.4,164.4 973.5,165.9 973.6,181.3 973.8,186.5 973.9,194.7 974.1,183.3 974.2,172.0 974.3,175.5 974.5,193.7 974.6,197.3 974.8,211.9 974.9,199.5 975.0,211.3 975.2,220.2 975.3,201.8 975.5,178.9 975.6,185.2 975.7,182.9 975.9,229.7 976.0,194.4 976.2,226.8 976.3,218.2 976.4,236.1 976.6,226.3 976.7,210.5 976.9,209.7 977.0,202.8 977.1,222.9 977.3,199.9 977.4,214.5 977.6,239.7 977.7,190.5 977.8,220.4 978.0,203.4 978.1,220.3 978.3,230.7 978.4,217.8 978.5,230.8 978.7,196.0 978.8,237.1 979.0,212.1 979.1,184.6 979.2,223.8 979.4,182.1 979.5,209.3 979.7,223.8 979.8,238.7 979.9,224.4 980.1,223.8 980.2,198.5 980.4,240.9 980.5,246.3 980.6,219.3 980.8,215.2 980.9,193.8 981.1,231.0 981.2,257.8 981.3,227.6 981.5,235.4 981.6,224.1 981.8,200.7 981.9,235.1 982.0,196.2 982.2,211.2 982.3,218.2 982.5,227.0 982.6,219.8 982.7,219.3 982.9,202.0 983.0,194.1 983.2,214.4 983.3,202.9 983.4,194.0 983.6,194.8 983.7,206.6 983.9,186.4 984.0,155.7 984.1,190.0 984.3,217.4 984.4,220.8 984.6,244.9 984.7,192.3 984.8,204.5 985.0,228.3 985.1,211.2 985.3,209.3 985.4,239.5 985.5,208.5 985.7,195.8 985.8,192.9 986.0,217.2 986.1,216.2 986.2,190.5 986.4,195.8 986.5,218.0 986.7,218.1 986.8,199.2 986.9,217.7 987.1,215.6 987.2,178.8 987.4,199.4 987.5,208.8 987.6,192.5 987.8,167.6 987.9,193.9 988.1,208.0 988.2,218.9 988.3,160.9 988.5,231.6 988.6,174.0 988.8,203.9 988.9,206.7 989.0,201.6 989.2,187.8 989.3,166.9 989.5,198.0 989.6,171.3 989.7,143.1 989.9,222.3 990.0,189.6 990.2,205.4 990.3,163.6 990.4,198.6 990.6,199.7 990.7,198.6 990.9,174.4 991.0,156.1 991.1,171.0 991.3,140.1 991.4,147.2 991.6,173.6 991.7,156.8 991.8,168.7 992.0,169.0 992.1,199.0 992.3,188.9 992.4,168.0 992.5,186.1 992.7,155.5 992.8,161.2 993.0,179.0 993.1,145.8 993.2,159.2 993.4,142.5 993.5,162.9 993.7,184.4 993.8,147.4 993.9,160.8 994.1,142.6 994.2,137.4 994.4,131.8 994.5,173.6 994.6,185.8 994.8,156.1 994.9,136.7 995.1,156.5 995.2,139.4 995.3,155.0 995.5,145.9 995.6,144.3 995.8,147.8 995.9,128.6 996.0,129.9 996.2,108.9 996.3,126.8 996.5,111.0 996.6,159.7 996.7,115.8 996.9,130.7 997.0,135.1 997.2,107.1 997.3,116.3 997.4,114.5 997.6,140.1 997.7,151.5 997.9,142.2 998.0,124.5 998.1,152.0 998.3,107.6 998.4,153.1 998.6,121.0 998.7,89.5 998.8,171.2 999.0,155.3 999.1,116.4 999.3,134.6 999.4,128.9 999.5,133.7 999.7,109.9 999.8,121.8 1000.0,138.9 1000.1,134.9 1000.2,149.3 1000.4,132.1 1000.5,165.6 1000.7,119.1 1000.8,133.0 1000.9,99.7 1001.1,108.8 1001.2,146.7 1001.4,111.7 1001.5,132.8 1001.6,122.9 1001.8,107.1 1001.9,116.5 1002.1,112.9 1002.2,112.3 1002.3,129.8 1002.5,127.3 1002.6,107.8 1002.8,101.9 1002.9,118.9 1003.0,112.3 1003.2,128.5 1003.3,152.2 1003.5,124.4 1003.6,110.7 1003.7,118.3 1003.9,97.6 1004.0,96.6 1004.2,94.9 1004.3,104.0 1004.4,103.5 1004.6,121.1 1004.7,104.1 1004.9,99.3 1005.0,92.6 1005.1,136.9 1005.3,121.3 1005.4,142.1 1005.6,128.9 1005.7,141.1 1005.8,106.7 1006.0,133.4 1006.1,165.2 1006.3,108.4 1006.4,146.6 1006.5,156.7 1006.7,139.9 1006.8,147.4 1007.0,157.5 1007.1,130.7 1007.2,149.5 1007.4,132.4 1007.5,137.8 1007.7,141.1 1007.8,150.9 1007.9,157.7 1008.1,164.8 1008.2,138.5 1008.4,192.9 1008.5,182.5 1008.6,178.1 1008.8,163.6 1008.9,169.8 1009.1,181.7 1009.2,181.5 1009.3,151.2 1009.5,190.3 1009.6,225.5 1009.8,153.9 1009.9,199.2 1010.0,191.2 1010.2,185.3 1010.3,209.5 1010.5,171.5 1010.6,193.4 1010.7,214.7 1010.9,190.2 1011.0,187.8 1011.2,197.0 1011.3,189.2 1011.4,220.6 1011.6,183.5 1011.7,211.5 1011.9,179.3 1012.0,209.3 1012.1,197.7 1012.3,159.8 1012.4,199.7 1012.6,183.4 1012.7,193.1 1012.8,223.7 1013.0,182.7 1013.1,183.4 1013.3,221.9 1013.4,163.5 1013.5,223.1 1013.7,204.1 1013.8,185.4 1014.0,197.8 1014.1,217.7 1014.2,213.2 1014.4,198.6 1014.5,199.3 1014.7,223.6 1014.8,189.8 1014.9,228.7 1015.1,198.9 1015.2,185.4 1015.4,190.4 1015.5,208.5 1015.6,206.9 1015.8,194.7 1015.9,186.5 1016.1,197.2 1016.2,171.1 1016.3,177.1 1016.5,209.8 1016.6,190.6 1016.8,204.2 1016.9,217.8 1017.0,209.7 1017.2,200.7 1017.3,233.9 1017.5,212.1 1017.6,197.1 1017.7,214.7 1017.9,210.4 1018.0,191.7 1018.2,206.8 1018.3,203.8 1018.4,160.9 1018.6,204.9 1018.7,203.8 1018.9,201.9 1019.0,183.7 1019.1,203.9 1019.3,209.1 1019.4,211.6 1019.6,198.3 1019.7,220.1 1019.8,191.7 1020.0,207.1 1020.1,230.8 1020.3,200.0 1020.4,202.9 1020.5,227.3 1020.7,204.9 1020.8,206.3 1021.0,214.3 1021.1,227.1 1021.2,177.1 1021.4,198.4 1021.5,195.8 1021.7,194.8 1021.8,198.5 1021.9,198.9 1022.1,216.7 1022.2,198.6 1022.4,214.4 1022.5,219.0 1022.6,201.9 1022.8,215.3 1022.9,238.8 1023.1,218.8 1023.2,204.3 1023.3,212.4 1023.5,198.7 1023.6,216.2 1023.8,224.5 1023.9,198.0 1024.0,206.5 1024.2,226.0 1024.3,200.5 1024.5,210.2 1024.6,190.7 1024.7,193.0 1024.9,196.8 1025.0,236.4 1025.2,196.7 1025.3,193.9 1025.4,192.4 1025.6,197.3 1025.7,208.6 1025.9,200.5 1026.0,227.5 1026.1,198.6 1026.3,215.9 1026.4,197.1 1026.6,200.7 1026.7,168.6 1026.8,175.8 1027.0,186.4 1027.1,182.2 1027.3,152.0 1027.4,195.8 1027.5,175.1 1027.7,172.6 1027.8,173.5 1028.0,172.0 1028.1,179.5 1028.2,152.4 1028.4,155.4 1028.5,171.6 1028.7,167.3 1028.8,157.3 1028.9,152.2 1029.1,146.0 1029.2,155.4 1029.4,171.8 1029.5,136.0 1029.6,172.4 1029.8,160.0 1029.9,138.4 1030.1,154.8 1030.2,118.9 1030.3,112.8 1030.5,117.4 1030.6,128.6 1030.8,128.0 1030.9,123.3 1031.0,130.7 1031.2,95.4 1031.3,133.3 1031.5,103.0 1031.6,112.8 1031.7,115.1 1031.9,102.6 1032.0,98.1 1032.2,102.4 1032.3,116.1 1032.4,124.0 1032.6,103.1 1032.7,98.3 1032.9,100.4 1033.0,97.6 1033.1,117.3 1033.3,79.3 1033.4,127.7 1033.6,101.2 1033.7,96.1 1033.8,112.6 1034.0,123.4 1034.1,113.4 1034.3,124.5 1034.4,118.0 1034.5,128.2 1034.7,129.0 1034.8,109.4 1035.0,133.1 1035.1,114.6 1035.2,114.1 1035.4,99.7 1035.5,109.9 1035.7,126.7 1035.8,96.1 1035.9,159.2 1036.1,122.6 1036.2,122.3 1036.4,85.9 1036.5,118.2 1036.6,130.2 1036.8,109.7 1036.9,123.1 1037.1,86.7 1037.2,125.7 1037.3,113.5 1037.5,136.9 1037.6,67.1 1037.8,134.9 1037.9,121.2 1038.0,137.1 1038.2,111.2 1038.3,115.9 1038.5,158.9 1038.6,112.8 1038.7,114.7 1038.9,121.1 1039.0,109.9 1039.2,143.0 1039.3,151.0 1039.4,114.5 1039.6,99.2 1039.7,142.6 1039.9,141.7 1040.0,120.8 1040.1,142.5 1040.3,112.2 1040.4,122.8 1040.6,104.6 1040.7,104.2 1040.8,140.4 1041.0,115.8 1041.1,160.2 1041.3,127.3 1041.4,116.8 1041.5,138.7 1041.7,155.1 1041.8,136.7 1042.0,112.6 1042.1,137.8 1042.2,154.4 1042.4,127.9 1042.5,125.2 1042.7,202.1 1042.8,142.1 1042.9,125.0 1043.1,137.5 1043.2,111.6 1043.4,150.9 1043.5,149.7 1043.6,167.0 1043.8,162.0 1043.9,129.5 1044.1,160.6 1044.2,169.6 1044.3,164.5 1044.5,174.7 1044.6,152.5 1044.8,148.0 1044.9,177.8 1045.0,181.4 1045.2,134.4 1045.3,183.6 1045.5,158.8 1045.6,166.5 1045.7,151.6 1045.9,154.1 1046.0,158.0 1046.2,171.4 1046.3,177.3 1046.4,145.2 1046.6,192.4 1046.7,164.8 1046.9,167.9 1047.0,195.5 1047.1,185.6 1047.3,165.0 1047.4,217.1 1047.6,177.9 1047.7,195.8 1047.8,196.4 1048.0,215.8 1048.1,189.0 1048.3,212.2 1048.4,187.1 1048.5,216.1 1048.7,188.9 1048.8,215.9 1049.0,230.7 1049.1,208.0 1049.2,205.7 1049.4,238.6 1049.5,211.2 1049.7,194.3 1049.8,218.4 1049.9,190.4 1050.1,225.8 1050.2,224.8 1050.4,201.8 1050.5,201.5 1050.6,213.2 1050.8,210.5 1050.9,195.4 1051.1,218.4 1051.2,136.5 1051.3,203.1 1051.5,203.4 1051.6,205.3 1051.8,213.8 1051.9,190.7 1052.0,217.8 1052.2,206.1 1052.3,198.9 1052.5,187.9 1052.6,190.4 1052.7,213.3 1052.9,193.1 1053.0,208.1 1053.2,211.5 1053.3,221.8 1053.4,229.2 1053.6,257.9 1053.7,188.5 1053.9,219.6 1054.0,208.5 1054.1,220.3 1054.3,203.2 1054.4,220.6 1054.6,215.1 1054.7,209.5 1054.8,209.8 1055.0,208.2 1055.1,206.0 1055.3,206.1 1055.4,218.0 1055.5,196.0 1055.7,230.4 1055.8,203.5 1056.0,220.7 1056.1,220.8 1056.2,204.2 1056.4,239.5 1056.5,205.5 1056.7,192.1 1056.8,201.7 1056.9,199.6 1057.1,246.9 1057.2,218.7 1057.4,230.6 1057.5,202.4 1057.6,223.5 1057.8,228.9 1057.9,246.4 1058.1,209.3 1058.2,229.1 1058.3,224.7 1058.5,204.8 1058.6,219.8 1058.8,215.1 1058.9,183.0 1059.0,225.5 1059.2,223.2 1059.3,207.0 1059.5,192.0 1059.6,232.6 1059.7,212.7 1059.9,222.3 1060.0,226.4 1060.2,195.7 1060.3,214.0 1060.4,196.5 1060.6,197.5 1060.7,195.5 1060.9,195.2 1061.0,210.4 1061.1,194.1 1061.3,188.5 1061.4,181.8 1061.6,193.3 1061.7,182.2 1061.8,178.2 1062.0,183.7 1062.1,174.9 1062.3,180.5 1062.4,172.0 1062.5,210.1 1062.7,198.8 1062.8,184.5 1063.0,175.7 1063.1,208.2 1063.2,178.9 1063.4,171.4 1063.5,175.8 1063.7,174.4 1063.8,202.3 1063.9,166.4 1064.1,196.5 1064.2,150.0 1064.4,171.9 1064.5,144.6 1064.6,184.9 1064.8,150.8 1064.9,153.0 1065.1,165.7 1065.2,168.8 1065.3,131.4 1065.5,141.1 1065.6,123.6 1065.8,144.9 1065.9,139.7 1066.0,134.5 1066.2,128.1 1066.3,191.3 1066.5,124.9 1066.6,143.1 1066.7,157.1 1066.9,104.7 1067.0,131.4 1067.2,126.5 1067.3,139.8 1067.4,118.0 1067.6,129.6 1067.7,116.6 1067.9,142.7 1068.0,133.9 1068.1,130.2 1068.3,138.5 1068.4,129.5 1068.6,110.2 1068.7,142.8 1068.8,133.7 1069.0,132.2 1069.1,149.7 1069.3,153.6 1069.4,119.3 1069.5,124.4 1069.7,159.7 1069.8,158.2 1070.0,126.2 1070.1,120.0 1070.2,128.5 1070.4,131.1 1070.5,116.0 1070.7,123.4 1070.8,122.7 1070.9,124.7 1071.1,157.6 1071.2,134.4 1071.4,144.4 1071.5,155.5 1071.6,158.9 1071.8,142.1 1071.9,148.2 1072.1,135.4 1072.2,174.1 1072.3,157.7 1072.5,131.4 1072.6,147.8 1072.8,158.2 1072.9,154.4 1073.0,174.2 1073.2,166.9 1073.3,137.7 1073.5,143.9 1073.6,125.4 1073.7,147.7 1073.9,145.5 1074.0,183.0 1074.2,143.1 1074.3,109.4 1074.4,129.9 1074.6,105.3 1074.7,119.3 1074.9,124.2 1075.0,130.8 1075.1,140.4 1075.3,131.8 1075.4,120.0 1075.6,144.1 1075.7,123.2 1075.8,122.8 1076.0,108.7 1076.1,116.7 1076.3,137.4 1076.4,102.6 1076.5,125.0 1076.7,136.2 1076.8,119.2 1077.0,127.9 1077.1,107.1 1077.2,143.2 1077.4,139.8 1077.5,126.7 1077.7,96.8 1077.8,107.4 1077.9,137.8 1078.1,149.0 1078.2,127.9 1078.4,142.3 1078.5,114.7 1078.6,122.0 1078.8,126.1 1078.9,133.8 1079.1,105.8 1079.2,144.2 1079.3,151.2 1079.5,115.5 1079.6,113.7 1079.8,140.6 1079.9,126.8 1080.0,102.3 1080.2,151.3 1080.3,142.8 1080.5,134.6 1080.6,174.7 1080.7,146.4 1080.9,134.4 1081.0,148.5 1081.2,132.8 1081.3,138.4 1081.4,157.0 1081.6,144.4 1081.7,103.9 1081.9,180.6 1082.0,170.0 1082.1,170.6 1082.3,168.0 1082.4,168.8 1082.6,184.8 1082.7,182.0 1082.8,193.7 1083.0,153.0 1083.1,164.8 1083.3,149.3 1083.4,166.2 1083.5,130.2 1083.7,195.8 1083.8,165.4 1084.0,176.7 1084.1,210.5 1084.2,168.2 1084.4,162.7 1084.5,182.8 1084.7,157.3 1084.8,186.3 1084.9,186.4 1085.1,177.7 1085.2,173.9 1085.4,169.8 1085.5,220.2 1085.6,173.5 1085.8,218.6 1085.9,205.8 1086.1,193.0 1086.2,182.6 1086.3,217.2 1086.5,229.0 1086.6,190.5 1086.8,201.4 1086.9,222.9 1087.0,213.4 1087.2,239.5 1087.3,202.0 1087.5,219.5 1087.6,192.4 1087.7,242.3 1087.9,199.5 1088.0,176.9 1088.2,207.6 1088.3,206.8 1088.4,237.0 1088.6,202.6 1088.7,206.9 1088.9,215.3 1089.0,229.6 1089.1,204.4 1089.3,220.5 1089.4,235.5 1089.6,199.7 1089.7,205.1 1089.8,204.2 1090.0,190.0 1090.1,222.0 1090.3,183.2 1090.4,221.8 1090.5,218.9 1090.7,203.6 1090.8,194.0 1091.0,194.7 1091.1,213.8 1091.2,218.5 1091.4,212.4 1091.5,223.7 1091.7,201.2 1091.8,213.8 1091.9,187.5 1092.1,223.3 1092.2,183.7 1092.4,207.0 1092.5,231.3 1092.6,224.9 1092.8,172.9 1092.9,216.3 1093.1,194.4 1093.2,232.7 1093.3,254.6 1093.5,209.9 1093.6,219.2 1093.8,214.7 1093.9,224.1 1094.0,228.8 1094.2,238.8 1094.3,205.0 1094.5,243.6 1094.6,206.3 1094.7,224.7 1094.9,238.2 1095.0,231.7 1095.2,207.1 1095.3,210.8 1095.4,214.5 1095.6,220.8 1095.7,238.9 1095.9,202.4 1096.0,228.0 1096.1,229.4 1096.3,227.8 1096.4,225.6 1096.6,240.5 1096.7,224.2 1096.8,228.8 1097.0,223.5 1097.1,241.0 1097.3,184.6 1097.4,231.4 1097.5,207.2 1097.7,206.0 1097.8,194.6 1098.0,180.2 1098.1,201.5 1098.2,195.9 1098.4,212.7 1098.5,183.0 1098.7,224.8 1098.8,206.5 1098.9,197.8 1099.1,189.9 1099.2,187.8 1099.4,181.7 1099.5,189.5 1099.6,197.5 1099.8,193.1 1099.9,173.5 1100.1,189.8 1100.2,179.3 1100.3,194.0 1100.5,218.5 1100.6,198.7 1100.8,183.4 1100.9,162.5 1101.0,164.3 1101.2,158.8 1101.3,193.6 1101.5,169.7 1101.6,180.5 1101.7,168.6 1101.9,177.5 1102.0,225.9 1102.2,162.2 1102.3,165.5 1102.4,156.5 1102.6,179.7 1102.7,149.1 1102.9,145.4 1103.0,139.4 1103.1,116.9 1103.3,162.9 1103.4,192.2 1103.6,136.6 1103.7,163.7 1103.8,141.0 1104.0,128.8 1104.1,139.2 1104.3,138.0 1104.4,129.2 1104.5,166.8 1104.7,107.5 1104.8,140.2 1105.0,138.0 1105.1,122.8 1105.2,132.4 1105.4,142.1 1105.5,130.0 1105.7,132.8 1105.8,135.9 1105.9,94.0 1106.1,145.8 1106.2,156.9 1106.4,136.7 1106.5,136.5 1106.6,99.5 1106.8,118.2 1106.9,107.2 1107.1,108.7 1107.2,133.0 1107.3,106.0 1107.5,115.8 1107.6,88.8 1107.8,114.8 1107.9,118.3 1108.0,106.3 1108.2,106.1 1108.3,138.5 1108.5,100.2 1108.6,103.4 1108.7,107.8 1108.9,138.7 1109.0,153.0 1109.2,127.3 1109.3,112.4 1109.4,117.6 1109.6,140.8 1109.7,112.0 1109.9,148.3 1110.0,148.5 1110.1,129.2 1110.3,138.6 1110.4,141.0 1110.6,153.8 1110.7,115.4 1110.8,149.6 1111.0,126.9 1111.1,121.7 1111.3,135.3 1111.4,131.1 1111.5,120.0 1111.7,111.2 1111.8,121.4 1112.0,140.9 1112.1,165.5 1112.2,146.0 1112.4,154.2 1112.5,128.7 1112.7,135.3 1112.8,140.6 1112.9,120.0 1113.1,121.2 1113.2,137.3 1113.4,130.8 1113.5,119.3 1113.6,140.8 1113.8,130.8 1113.9,149.8 1114.1,134.1 1114.2,129.4 1114.3,135.5 1114.5,130.8 1114.6,123.2 1114.8,127.0 1114.9,97.8 1115.0,142.4 1115.2,151.8 1115.3,107.0 1115.5,126.4 1115.6,126.0 1115.7,134.6 1115.9,125.2 1116.0,124.1 1116.2,143.4 1116.3,134.1 1116.4,113.8 1116.6,151.0 1116.7,145.7 1116.9,121.9 1117.0,142.6 1117.1,74.6 1117.3,146.9 1117.4,127.3 1117.6,119.2 1117.7,126.2 1117.8,120.9 1118.0,135.9 1118.1,136.3 1118.3,134.9 1118.4,108.6 1118.5,80.9 1118.7,138.0 1118.8,109.0 1119.0,141.9 1119.1,156.1 1119.2,144.2 1119.4,135.1 1119.5,139.3 1119.7,141.0 1119.8,135.8 1119.9,136.4 1120.1,126.4 1120.2,192.3 1120.4,148.4 1120.5,164.2 1120.6,147.3 1120.8,153.5 1120.9,151.2 1121.1,162.1 1121.2,169.0 1121.3,161.7 1121.5,149.5 1121.6,149.4 1121.8,187.5 1121.9,160.0 1122.0,161.5 1122.2,189.4 1122.3,185.3 1122.5,178.6 1122.6,166.2 1122.7,209.1 1122.9,181.2 1123.0,185.1 1123.2,175.8 1123.3,158.6 1123.4,161.2 1123.6,188.8 1123.7,189.9 1123.9,181.8 1124.0,169.1 1124.1,166.2 1124.3,184.2 1124.4,168.4 1124.6,204.8 1124.7,209.7 1124.8,235.9 1125.0,207.7 1125.1,186.6 1125.3,183.4 1125.4,145.7 1125.5,189.5 1125.7,196.7 1125.8,214.8 1126.0,210.4 1126.1,211.0 1126.2,206.3 1126.4,213.9 1126.5,226.7 1126.7,189.9 1126.8,199.9 1126.9,186.9 1127.1,233.0 1127.2,229.1 1127.4,221.8 1127.5,193.5 1127.6,215.0 1127.8,209.9 1127.9,214.8 1128.1,210.8 1128.2,221.5 1128.3,207.9 1128.5,226.8 1128.6,217.7 1128.8,209.9 1128.9,212.8 1129.0,208.0 1129.2,227.1 1129.3,211.1 1129.5,219.8 1129.6,265.6 1129.7,193.7 1129.9,229.9 1130.0,200.8 1130.2,227.2 1130.3,223.6 1130.4,239.1 1130.6,203.8 1130.7,210.5 1130.9,206.2 1131.0,201.0 1131.1,230.0 1131.3,215.4 1131.4,224.9 1131.6,212.6 1131.7,223.6 1131.8,207.6 1132.0,218.2 1132.1,227.1 1132.3,218.6 1132.4,210.6 1132.5,200.6 1132.7,218.8 1132.8,220.7 1133.0,210.9 1133.1,202.3 1133.2,221.1 1133.4,249.2 1133.5,206.4 1133.7,214.9 1133.8,214.4 1133.9,169.1 1134.1,208.3 1134.2,205.5 1134.4,225.0 1134.5,199.3 1134.6,190.4 1134.8,197.9 1134.9,202.8 1135.1,241.9 1135.2,198.0 1135.3,177.9 1135.5,194.4 1135.6,209.1 1135.8,226.7 1135.9,206.7 1136.0,199.1 1136.2,211.9 1136.3,208.6 1136.5,217.5 1136.6,208.1 1136.7,189.4 1136.9,194.4 1137.0,192.6 1137.2,193.9 1137.3,188.7 1137.4,176.4 1137.6,156.0 1137.7,176.7 1137.9,155.7 1138.0,186.2 1138.1,184.3 1138.3,158.1 1138.4,192.5 1138.6,193.9 1138.7,166.9 1138.8,203.2 1139.0,204.8 1139.1,219.6 1139.3,189.0 1139.4,178.3 1139.5,176.2 1139.7,182.0 1139.8,155.3 1140.0,155.2 1140.1,149.6 1140.2,148.6 1140.4,156.4 1140.5,134.0 1140.7,138.0 1140.8,160.2 1140.9,148.3 1141.1,153.0 1141.2,116.8 1141.4,131.3 1141.5,132.7 1141.6,139.5 1141.8,128.3 1141.9,149.1 1142.1,132.4 1142.2,131.8 1142.3,130.0 1142.5,138.8 1142.6,119.6 1142.8,142.0 1142.9,130.8 1143.0,124.9 1143.2,122.1 1143.3,128.2 1143.5,106.0 1143.6,132.8 1143.7,123.5 1143.9,130.4 1144.0,118.4 1144.2,134.9 1144.3,115.2 1144.4,84.1 1144.6,123.8 1144.7,116.1 1144.9,96.6 1145.0,110.9 1145.1,100.4 1145.3,145.1 1145.4,121.7 1145.6,91.4 1145.7,123.8 1145.8,110.2 1146.0,138.4 1146.1,101.3 1146.3,83.8 1146.4,118.9 1146.5,113.0 1146.7,112.3 1146.8,86.6 1147.0,125.3 1147.1,144.1 1147.2,90.5 1147.4,136.7 1147.5,110.7 1147.7,154.4 1147.8,125.6 1147.9,116.1 1148.1,135.4 1148.2,126.5 1148.4,109.5 1148.5,128.8 1148.6,110.2 1148.8,90.7 1148.9,147.6 1149.1,111.5 1149.2,107.2 1149.3,121.0 1149.5,92.1 1149.6,134.3 1149.8,107.1 1149.9,106.4 1150.0,114.8 1150.2,130.2 1150.3,105.9 1150.5,120.1 1150.6,121.5 1150.7,95.9 1150.9,115.4 1151.0,97.7 1151.2,111.8 1151.3,118.6 1151.4,112.1 1151.6,91.8 1151.7,113.8 1151.9,100.7 1152.0,123.1 1152.1,111.0 1152.3,100.9 1152.4,148.5 1152.6,124.7 1152.7,105.3 1152.8,132.0 1153.0,110.5 1153.1,110.7 1153.3,118.0 1153.4,106.1 1153.5,112.1 1153.7,117.5 1153.8,144.2 1154.0,144.9 1154.1,119.8 1154.2,138.1 1154.4,125.4 1154.5,133.0 1154.7,141.7 1154.8,134.0 1154.9,167.1 1155.1,135.7 1155.2,115.3 1155.4,154.0 1155.5,129.5 1155.6,132.5 1155.8,93.5 1155.9,154.7 1156.1,153.3 1156.2,154.5 1156.3,158.6 1156.5,170.8 1156.6,146.3 1156.8,162.6 1156.9,138.9 1157.0,146.3 1157.2,169.1 1157.3,160.7 1157.5,136.4 1157.6,163.4 1157.7,156.7 1157.9,148.7 1158.0,168.9 1158.2,157.8 1158.3,141.6 1158.4,149.8 1158.6,194.3 1158.7,146.2 1158.9,173.4 1159.0,180.3 1159.1,181.8 1159.3,154.8 1159.4,169.3 1159.6,177.1 1159.7,187.8 1159.8,166.9 1160.0,127.0 1160.1,193.1 1160.3,195.3 1160.4,185.0 1160.5,171.0 1160.7,186.8 1160.8,183.0 1161.0,194.6 1161.1,163.9 1161.2,185.1 1161.4,181.6 1161.5,168.1 1161.7,188.7 1161.8,186.7 1161.9,180.9 1162.1,193.8 1162.2,167.5 1162.4,188.9 1162.5,197.2 1162.6,196.0 1162.8,209.0 1162.9,176.0 1163.1,172.6 1163.2,200.0 1163.3,204.6 1163.5,230.9 1163.6,209.7 1163.8,188.7 1163.9,214.8 1164.0,190.6 1164.2,181.6 1164.3,243.6 1164.5,216.5 1164.6,216.5 1164.7,214.9 1164.9,234.3 1165.0,212.0 1165.2,226.6 1165.3,193.5 1165.4,188.6 1165.6,231.3 1165.7,232.5 1165.9,218.5 1166.0,214.5 1166.1,213.9 1166.3,201.4 1166.4,235.0 1166.6,222.0 1166.7,219.8 1166.8,218.0 1167.0,228.1 1167.1,220.1 1167.3,223.8 1167.4,195.1 1167.5,220.4 1167.7,245.7 1167.8,205.3 1168.0,211.3 1168.1,226.9 1168.2,228.1 1168.4,223.5 1168.5,190.3 1168.7,222.5 1168.8,197.7 1168.9,203.7 1169.1,224.8 1169.2,212.8 1169.4,229.9 1169.5,263.3 1169.6,230.7 1169.8,230.4 1169.9,206.7 1170.1,211.0 1170.2,205.1 1170.3,213.4 1170.5,210.0 1170.6,212.0 1170.8,218.9 1170.9,207.1 1171.0,200.8 1171.2,201.5 1171.3,228.5 1171.5,222.3 1171.6,236.4 1171.7,236.2 1171.9,214.0 1172.0,227.5 1172.2,194.1 1172.3,248.2 1172.4,230.1 1172.6,207.2 1172.7,160.0 1172.9,212.4 1173.0,176.8 1173.1,191.3 1173.3,212.4 1173.4,200.5 1173.6,190.3 1173.7,210.2 1173.8,178.7 1174.0,197.0 1174.1,183.8 1174.3,177.1 1174.4,195.4 1174.5,172.2 1174.7,191.1 1174.8,175.9 1175.0,213.4 1175.1,166.1 1175.2,190.6 1175.4,162.5 1175.5,159.5 1175.7,181.1 1175.8,187.9 1175.9,136.5 1176.1,219.9 1176.2,163.1 1176.4,176.1 1176.5,178.8 1176.6,181.0 1176.8,144.1 1176.9,194.2 1177.1,177.2 1177.2,161.2 1177.3,150.9 1177.5,139.5 1177.6,143.1 1177.8,170.2 1177.9,155.4 1178.0,142.0 1178.2,149.5 1178.3,179.2 1178.5,149.1 1178.6,143.7 1178.7,171.0 1178.9,155.9 1179.0,147.9 1179.2,149.0 1179.3,120.5 1179.4,124.5 1179.6,133.1 1179.7,135.3 1179.9,142.2 1180.0,143.4 1180.1,136.8 1180.3,135.1 1180.4,115.0 1180.6,96.2 1180.7,119.1 1180.8,111.0 1181.0,113.9 1181.1,118.0 1181.3,102.1 1181.4,103.6 1181.5,118.2 1181.7,121.0 1181.8,108.9 1182.0,125.8 1182.1,114.5 1182.2,102.1 1182.4,117.5 1182.5,144.7 1182.7,106.0 1182.8,133.2 1182.9,136.0 1183.1,137.5 1183.2,102.4 1183.4,144.7 1183.5,122.5 1183.6,110.1 1183.8,110.3 1183.9,122.6 1184.1,114.1 1184.2,110.5 1184.3,132.3 1184.5,102.0 1184.6,97.1 1184.8,124.5 1184.9,123.0 1185.0,128.7 1185.2,96.0 1185.3,128.1 1185.5,118.9 1185.6,137.9 1185.7,92.5 1185.9,114.3 1186.0,106.6 1186.2,86.7 1186.3,99.6 1186.4,127.0 1186.6,102.8 1186.7,98.8 1186.9,122.5 1187.0,124.1 1187.1,123.9 1187.3,97.2 1187.4,108.1 1187.6,124.3 1187.7,99.1 1187.8,97.7 1188.0,121.5 1188.1,132.6 1188.3,92.1 1188.4,84.1 1188.5,88.2 1188.7,95.1 1188.8,108.7 1189.0,120.4 1189.1,109.5 1189.2,101.8 1189.4,115.2 1189.5,99.8 1189.7,115.1 1189.8,107.8 1189.9,146.6 1190.1,133.2 1190.2,110.2 1190.4,122.7 1190.5,120.0 1190.6,103.8 1190.8,119.6 1190.9,121.5 1191.1,147.8 1191.2,130.2 1191.3,110.6 1191.5,120.7 1191.6,125.2 1191.8,108.0 1191.9,143.6 1192.0,165.8 1192.2,141.2 1192.3,168.4 1192.5,158.2 1192.6,156.0 1192.7,127.6 1192.9,139.9 1193.0,171.9 1193.2,183.2 1193.3,166.7 1193.4,176.3 1193.6,159.9 1193.7,161.6 1193.9,158.2 1194.0,183.8 1194.1,175.2 1194.3,167.4 1194.4,166.8 1194.6,180.8 1194.7,177.9 1194.8,161.2 1195.0,200.0 1195.1,178.7 1195.3,175.5 1195.4,197.9 1195.5,191.5 1195.7,175.2 1195.8,184.9 1196.0,161.2 1196.1,167.9 1196.2,143.9 1196.4,196.4 1196.5,149.9 1196.7,188.9 1196.8,166.5 1196.9,164.6 1197.1,176.7 1197.2,184.0 1197.4,189.6 1197.5,207.5 1197.6,186.9 1197.8,195.4 1197.9,174.0 1198.1,194.5 1198.2,187.0 1198.3,178.8 1198.5,185.4 1198.6,187.2 1198.8,173.4 1198.9,196.8 1199.0,184.6 1199.2,182.7 1199.3,206.6 1199.5,171.6 1199.6,189.5 1199.7,223.7 1199.9,161.5 1200.0,193.4 1200.2,221.6 1200.3,182.3 1200.4,247.6 1200.6,171.3 1200.7,232.3 1200.9,234.6 1201.0,225.3 1201.1,208.6 1201.3,217.5 1201.4,198.9 1201.6,224.6 1201.7,195.7 1201.8,208.3 1202.0,227.3 1202.1,195.5 1202.3,206.6 1202.4,214.3 1202.5,191.5 1202.7,228.9 1202.8,216.3 1203.0,188.2 1203.1,210.1 1203.2,199.0 1203.4,200.6 1203.5,211.6 1203.7,199.8 1203.8,224.9 1203.9,200.0 1204.1,225.5 1204.2,210.4 1204.4,224.2 1204.5,203.6 1204.6,204.6 1204.8,195.4 1204.9,222.0 1205.1,228.0 1205.2,246.4 1205.3,234.6 1205.5,219.7 1205.6,216.1 1205.8,223.2 1205.9,217.7 1206.0,240.7 1206.2,233.6 1206.3,207.5 1206.5,210.2 1206.6,241.5 1206.7,226.0 1206.9,218.2 1207.0,239.6 1207.2,216.1 1207.3,217.7 1207.4,214.8 1207.6,192.0 1207.7,234.0 1207.9,202.4 1208.0,211.5 1208.1,208.2 1208.3,229.5 1208.4,216.7 1208.6,217.0 1208.7,190.6 1208.8,213.5 1209.0,191.6 1209.1,216.3 1209.3,215.2 1209.4,207.4 1209.5,236.2 1209.7,211.4 1209.8,210.5 1210.0,201.6 1210.1,194.7 1210.2,210.1 1210.4,210.3 1210.5,172.5 1210.7,206.1 1210.8,196.3 1210.9,201.3 1211.1,192.3 1211.2,165.2 1211.4,164.8 1211.5,208.3 1211.6,183.4 1211.8,157.1 1211.9,182.3 1212.1,170.5 1212.2,147.1 1212.3,139.3 1212.5,148.6 1212.6,175.7 1212.8,198.6 1212.9,166.0 1213.0,173.1 1213.2,177.0 1213.3,135.6 1213.5,161.8 1213.6,153.1 1213.7,146.2 1213.9,155.8 1214.0,161.4 1214.2,158.5 1214.3,139.9 1214.4,153.7 1214.6,190.4 1214.7,143.5 1214.9,133.2 1215.0,161.8 1215.1,120.3 1215.3,162.8 1215.4,138.0 1215.6,168.8 1215.7,141.0 1215.8,134.6 1216.0,141.4 1216.1,147.7 1216.3,158.8 1216.4,150.4 1216.5,145.1 1216.7,158.1 1216.8,143.9 1217.0,154.7 1217.1,118.7 1217.2,114.6 1217.4,159.1 1217.5,114.3 1217.7,129.0 1217.8,104.7 1217.9,129.9 1218.1,122.0 1218.2,148.1 1218.4,87.7 1218.5,137.4 1218.6,157.1 1218.8,121.5 1218.9,119.5 1219.1,129.6 1219.2,145.8 1219.3,100.2 1219.5,119.1 1219.6,114.8 1219.8,125.9 1219.9,119.8 1220.0,127.3 1220.2,111.1 1220.3,118.2 1220.5,107.6 1220.6,107.9 1220.7,116.0 1220.9,116.2 1221.0,101.0 1221.2,142.5 1221.3,117.2 1221.4,98.7 1221.6,136.3 1221.7,108.8 1221.9,127.8 1222.0,109.3 1222.1,124.3 1222.3,123.2 1222.4,112.1 1222.6,121.3 1222.7,151.2 1222.8,66.7 1223.0,121.5 1223.1,126.9 1223.3,104.4 1223.4,99.5 1223.5,152.2 1223.7,114.1 1223.8,150.6 1224.0,157.7 1224.1,120.2 1224.2,126.1 1224.4,128.3 1224.5,136.4 1224.7,125.1 1224.8,120.7 1224.9,121.2 1225.1,138.8 1225.2,130.9 1225.4,70.0 1225.5,109.2 1225.6,123.9 1225.8,109.7 1225.9,113.6 1226.1,105.1 1226.2,115.6 1226.3,126.1 1226.5,134.9 1226.6,120.3 1226.8,151.4 1226.9,119.3 1227.0,195.7 1227.2,135.8 1227.3,129.1 1227.5,115.2 1227.6,81.4 1227.7,122.5 1227.9,128.5 1228.0,155.7 1228.2,96.2 1228.3,157.5 1228.4,126.2 1228.6,141.9 1228.7,93.9 1228.9,135.2 1229.0,129.0 1229.1,145.5 1229.3,137.7 1229.4,120.3 1229.6,152.8 1229.7,150.1 1229.8,149.8 1230.0,157.2 1230.1,159.7 1230.3,144.1 1230.4,125.3 1230.5,126.2 1230.7,168.5 1230.8,160.2 1231.0,152.5 1231.1,145.8 1231.2,154.2 1231.4,155.5 1231.5,151.5 1231.7,147.6 1231.8,192.0 1231.9,164.4 1232.1,153.4 1232.2,144.5 1232.4,154.6 1232.5,177.8 1232.6,179.9 1232.8,166.7 1232.9,172.2 1233.1,168.3 1233.2,157.6 1233.3,195.1 1233.5,182.4 1233.6,215.2 1233.8,167.9 1233.9,178.3 1234.0,194.7 1234.2,178.8 1234.3,162.7 1234.5,170.2 1234.6,186.8 1234.7,191.3 1234.9,185.6 1235.0,202.9 1235.2,203.5 1235.3,194.3 1235.4,190.7 1235.6,187.4 1235.7,200.3 1235.9,206.8 1236.0,194.9 1236.1,201.8 1236.3,191.4 1236.4,176.2 1236.6,183.6 1236.7,211.4 1236.8,208.0 1237.0,226.6 1237.1,205.0 1237.3,218.6 1237.4,226.9 1237.5,223.5 1237.7,200.9 1237.8,208.6 1238.0,213.8 1238.1,172.3 1238.2,219.8 1238.4,228.4 1238.5,206.1 1238.7,243.2 1238.8,209.4 1238.9,210.8 1239.1,210.3 1239.2,203.2 1239.4,219.9 1239.5,213.8 1239.6,238.1 1239.8,222.0 1239.9,220.6 1240.1,208.9 1240.2,190.6 1240.3,210.0 1240.5,198.2 1240.6,224.9 1240.8,209.8 1240.9,234.9 1241.0,220.7 1241.2,222.0 1241.3,212.7 1241.5,212.3 1241.6,218.9 1241.7,222.9 1241.9,198.5 1242.0,216.6 1242.2,248.7 1242.3,208.3 1242.4,206.0 1242.6,199.8 1242.7,188.7 1242.9,228.6 1243.0,212.1 1243.1,216.1 1243.3,239.7 1243.4,250.0 1243.6,199.5 1243.7,229.0 1243.8,223.0 1244.0,220.0 1244.1,221.6 1244.3,214.4 1244.4,239.0 1244.5,224.7 1244.7,220.9 1244.8,234.8 1245.0,229.8 1245.1,223.5 1245.2,198.0 1245.4,243.4 1245.5,224.9 1245.7,216.1 1245.8,204.8 1245.9,212.7 1246.1,202.2 1246.2,219.7 1246.4,222.1 1246.5,187.0 1246.6,217.2 1246.8,225.7 1246.9,217.5 1247.1,199.7 1247.2,232.0 1247.3,201.3 1247.5,192.1 1247.6,192.9 1247.8,207.5 1247.9,220.9 1248.0,222.1 1248.2,206.0 1248.3,183.2 1248.5,189.4 1248.6,184.0 1248.7,192.8 1248.9,166.9 1249.0,193.1 1249.2,199.1 1249.3,165.4 1249.4,192.3 1249.6,169.3 1249.7,159.6 1249.9,170.0 1250.0,195.1 1250.1,191.5 1250.3,167.6 1250.4,191.0 1250.6,166.6 1250.7,192.9 1250.8,176.3 1251.0,161.2 1251.1,179.0 1251.3,154.6 1251.4,151.4 1251.5,143.1 1251.7,168.1 1251.8,163.0 1252.0,162.2 1252.1,156.7 1252.2,184.1 1252.4,155.8 1252.5,150.9 1252.7,180.0 1252.8,182.2 1252.9,165.4 1253.1,133.7 1253.2,150.2 1253.4,167.7 1253.5,158.0 1253.6,180.2 1253.8,135.5 1253.9,165.2 1254.1,144.5 1254.2,172.6 1254.3,150.5 1254.5,165.8 1254.6,139.2 1254.8,126.4 1254.9,129.5 1255.0,135.6 1255.2,127.8 1255.3,159.6 1255.5,160.2 1255.6,142.7 1255.7,121.5 1255.9,133.7 1256.0,123.7 1256.2,154.4 1256.3,135.8 1256.4,137.0 1256.6,122.2 1256.7,96.7 1256.9,91.2 1257.0,107.4 1257.1,128.4 1257.3,123.0 1257.4,108.2 1257.6,113.1 1257.7,141.8 1257.8,103.5 1258.0,103.7 1258.1,113.6 1258.3,106.1 1258.4,117.1 1258.5,123.6 1258.7,141.1 1258.8,88.0 1259.0,113.9 1259.1,114.4 1259.2,112.2 1259.4,110.3 1259.5,107.7 1259.7,127.7 1259.8,105.5 1259.9,110.5 1260.1,112.5 1260.2,114.2 1260.4,110.3 1260.5,128.1 1260.6,113.4 1260.8,116.6 1260.9,113.8 1261.1,100.1 1261.2,103.4 1261.3,100.8 1261.5,120.1 1261.6,66.8 1261.8,102.8 1261.9,123.1 1262.0,128.1 1262.2,94.5 1262.3,146.9 1262.5,122.7 1262.6,121.1 1262.7,139.2 1262.9,124.7 1263.0,114.9 1263.2,157.2 1263.3,108.4 1263.4,123.2 1263.6,137.5 1263.7,108.8 1263.9,123.4 1264.0,130.7 1264.1,160.8 1264.3,111.3 1264.4,123.9 1264.6,134.3 1264.7,125.5 1264.8,106.0 1265.0,163.6 1265.1,125.2 1265.3,130.0 1265.4,140.0 1265.5,138.0 1265.7,128.6 1265.8,126.9 1266.0,128.3 1266.1,119.8 1266.2,125.2 1266.4,116.6 1266.5,124.9 1266.7,149.6 1266.8,148.2 1266.9,158.4 1267.1,121.3 1267.2,134.2 1267.4,125.8 1267.5,149.4 1267.6,138.1 1267.8,134.0 1267.9,130.7 1268.1,137.2 1268.2,121.6 1268.3,148.1 1268.5,128.5 1268.6,148.5 1268.8,143.7 1268.9,159.5 1269.0,144.0 1269.2,160.8 1269.3,132.8 1269.5,156.9 1269.6,145.5 1269.7,152.8 1269.9,152.0 1270.0,166.0 1270.2,122.7 1270.3,158.8 1270.4,132.5 1270.6,174.0 1270.7,100.9 1270.9,142.7 1271.0,133.7 1271.1,184.3 1271.3,141.4 1271.4,163.4 1271.6,154.7 1271.7,74.4 1271.8,159.7 1272.0,175.8 1272.1,164.2 1272.3,182.1 1272.4,163.6 1272.5,170.2 1272.7,165.4 1272.8,177.4 1273.0,201.8 1273.1,163.2 1273.2,178.4 1273.4,167.2 1273.5,166.2 1273.7,200.5 1273.8,162.8 1273.9,166.8 1274.1,180.0 1274.2,176.0 1274.4,212.7 1274.5,148.8 1274.6,190.6 1274.8,196.8 1274.9,170.2 1275.1,178.2 1275.2,195.2 1275.3,214.0 1275.5,176.6 1275.6,167.5 1275.8,206.5 1275.9,211.2 1276.0,188.4 1276.2,160.9 1276.3,216.6 1276.5,192.5 1276.6,213.0 1276.7,196.2 1276.9,191.4 1277.0,190.0 1277.2,218.7 1277.3,218.0 1277.4,164.3 1277.6,182.2 1277.7,222.9 1277.9,190.8 1278.0,176.0 1278.1,196.6 1278.3,195.2 1278.4,195.6 1278.6,190.2 1278.7,193.1 1278.8,191.3 1279.0,203.6 1279.1,186.9 1279.3,195.3 1279.4,198.0 1279.5,220.2 1279.7,206.8 1279.8,200.0 1280.0,210.2 1280.1,208.6 1280.2,219.3 1280.4,210.9 1280.5,230.6 1280.7,224.1 1280.8,203.5 1280.9,198.1 1281.1,217.6 1281.2,212.2 1281.4,203.0 1281.5,182.3 1281.6,176.8 1281.8,209.4 1281.9,215.6 1282.1,216.0 1282.2,184.4 1282.3,219.1 1282.5,195.3 1282.6,208.8 1282.8,209.0 1282.9,190.5 1283.0,193.4 1283.2,171.0 1283.3,188.1 1283.5,174.5 1283.6,207.9 1283.7,202.1 1283.9,214.6 1284.0,206.1 1284.2,191.1 1284.3,205.7 1284.4,194.5 1284.6,209.5 1284.7,205.0 1284.9,185.5 1285.0,200.2 1285.1,200.2 1285.3,193.9 1285.4,211.2 1285.6,222.7 1285.7,190.8 1285.8,190.3 1286.0,169.6 1286.1,192.4 1286.3,187.1 1286.4,146.9 1286.5,196.8 1286.7,200.8 1286.8,180.3 1287.0,185.1 1287.1,175.5 1287.2,200.8 1287.4,165.9 1287.5,183.2 1287.7,216.3 1287.8,186.9 1287.9,192.2 1288.1,182.0 1288.2,165.5 1288.4,181.5 1288.5,186.9 1288.6,162.2 1288.8,183.5 1288.9,195.7 1289.1,191.7 1289.2,150.5 1289.3,158.2 1289.5,147.2 1289.6,186.0 1289.8,177.6 1289.9,177.5 1290.0,152.4 1290.2,146.6 1290.3,163.7 1290.5,162.6 1290.6,146.8 1290.7,160.3 1290.9,166.3 1291.0,158.6 1291.2,138.1 1291.3,120.5 1291.4,146.8 1291.6,151.6 1291.7,148.0 1291.9,139.7 1292.0,134.3 1292.1,154.0 1292.3,141.0 1292.4,142.2 1292.6,124.4 1292.7,128.3 1292.8,138.7 1293.0,119.9 1293.1,114.8 1293.3,86.0 1293.4,149.4 1293.5,133.1 1293.7,151.0 1293.8,175.1 1294.0,122.4 1294.1,105.2 1294.2,116.4 1294.4,145.6 1294.5,128.0 1294.7,133.0 1294.8,131.6 1294.9,119.8 1295.1,116.2 1295.2,120.8 1295.4,128.9 1295.5,125.3 1295.6,95.4 1295.8,119.9 1295.9,105.6 1296.1,112.6 1296.2,101.8 1296.3,130.3 1296.5,83.1 1296.6,110.6 1296.8,156.3 1296.9,107.3 1297.0,94.7 1297.2,110.8 1297.3,129.7 1297.5,107.4 1297.6,118.4 1297.7,110.1 1297.9,102.5 1298.0,154.9 1298.2,108.3 1298.3,98.8 1298.4,99.2 1298.6,112.0 1298.7,112.2 1298.9,117.4 1299.0,107.8 1299.1,84.1 1299.3,113.4 1299.4,100.7 1299.6,100.9 1299.7,82.9 1299.8,96.5 1300.0,94.2 1300.1,104.6 1300.3,83.3 1300.4,106.0 1300.5,107.2 1300.7,88.6 1300.8,96.2 1301.0,92.9 1301.1,119.6 1301.2,70.7 1301.4,101.3 1301.5,81.9 1301.7,100.7 1301.8,120.3 1301.9,98.5 1302.1,110.5 1302.2,96.2 1302.4,138.4 1302.5,123.4 1302.6,127.1 1302.8,90.7 1302.9,94.5 1303.1,127.5 1303.2,108.8 1303.3,108.1 1303.5,117.2 1303.6,93.5 1303.8,124.8 1303.9,114.4 1304.0,122.2 1304.2,105.8 1304.3,124.4 1304.5,107.0 1304.6,132.8 1304.7,136.3 1304.9,133.9 1305.0,128.8 1305.2,131.5 1305.3,82.4 1305.4,136.6 1305.6,121.1 1305.7,127.8 1305.9,123.4 1306.0,108.1 1306.1,151.7 1306.3,141.8 1306.4,154.8 1306.6,125.9 1306.7,123.4 1306.8,160.6 1307.0,127.5 1307.1,173.8 1307.3,145.4 1307.4,133.4 1307.5,163.5 1307.7,176.2 1307.8,131.3 1308.0,178.3 1308.1,152.7 1308.2,160.4 1308.4,155.2 1308.5,139.2 1308.7,172.2 1308.8,180.4 1308.9,199.8 1309.1,195.9 1309.2,182.1 1309.4,169.7 1309.5,167.0 1309.6,171.9 1309.8,165.3 1309.9,175.0 1310.1,142.3 1310.2,184.5 1310.3,182.6 1310.5,222.8 1310.6,196.9 1310.8,179.5 1310.9,196.3 1311.0,170.6 1311.2,181.0 1311.3,163.1 1311.5,214.1 1311.6,202.1 1311.7,176.6 1311.9,194.3 1312.0,210.4 1312.2,204.4 1312.3,203.6 1312.4,185.9 1312.6,190.0 1312.7,201.7 1312.9,214.8 1313.0,189.2 1313.1,185.4 1313.3,220.0 1313.4,189.5 1313.6,220.1 1313.7,208.1 1313.8,218.1 1314.0,231.5 1314.1,216.1 1314.3,217.9 1314.4,192.9 1314.5,196.7 1314.7,217.3 1314.8,231.2 1315.0,229.6 1315.1,244.1 1315.2,214.6 1315.4,213.6 1315.5,225.6 1315.7,210.8 1315.8,209.7 1315.9,195.1 1316.1,225.9 1316.2,195.2 1316.4,219.4 1316.5,190.8 1316.6,229.0 1316.8,197.7 1316.9,226.3 1317.1,190.4 1317.2,208.2 1317.3,233.1 1317.5,203.9 1317.6,217.6 1317.8,210.0 1317.9,183.1 1318.0,222.9 1318.2,225.2 1318.3,202.5 1318.5,228.1 1318.6,207.9 1318.7,205.1 1318.9,220.4 1319.0,210.2 1319.2,255.0 1319.3,197.3 1319.4,231.7 1319.6,235.4 1319.7,190.7 1319.9,194.3" fill="none" stroke="#000" stroke-width="1.2" stroke-linejoin="miter"/>
<line x1="904.3" y1="473.2" x2="904.3" y2="763.8" stroke="#3a3a3a" stroke-width="1.2"/>
<line x1="903.7" y1="763.3" x2="1238.5" y2="763.3" stroke="#3a3a3a" stroke-width="1.2"/>
<line x1="900.3" y1="473.6" x2="904.3" y2="473.6" stroke="#3a3a3a" stroke-width="1.2"/>
<text x="860.50" y="481.60" font-size="22.64" font-weight="normal" textLength="36.20" lengthAdjust="spacingAndGlyphs" fill="#1a1a1a" stroke="#1a1a1a" stroke-width="0.35">2.5</text>
<line x1="900.3" y1="521.8" x2="904.3" y2="521.8" stroke="#3a3a3a" stroke-width="1.2"/>
<text x="860.50" y="529.80" font-size="22.64" font-weight="normal" textLength="36.12" lengthAdjust="spacingAndGlyphs" fill="#1a1a1a" stroke="#1a1a1a" stroke-width="0.35">2.0</text>
<line x1="900.3" y1="570.0" x2="904.3" y2="570.0" stroke="#3a3a3a" stroke-width="1.2"/>
<text x="859.78" y="578.00" font-size="22.64" font-weight="normal" textLength="36.94" lengthAdjust="spacingAndGlyphs" fill="#1a1a1a" stroke="#1a1a1a" stroke-width="0.35">1.5</text>
<line x1="900.3" y1="618.4" x2="904.3" y2="618.4" stroke="#3a3a3a" stroke-width="1.2"/>
<text x="859.79" y="626.40" font-size="22.64" font-weight="normal" textLength="36.85" lengthAdjust="spacingAndGlyphs" fill="#1a1a1a" stroke="#1a1a1a" stroke-width="0.35">1.0</text>
<line x1="900.3" y1="666.6" x2="904.3" y2="666.6" stroke="#3a3a3a" stroke-width="1.2"/>
<text x="860.79" y="674.60" font-size="22.64" font-weight="normal" textLength="35.90" lengthAdjust="spacingAndGlyphs" fill="#1a1a1a" stroke="#1a1a1a" stroke-width="0.35">0.5</text>
<line x1="900.3" y1="714.8" x2="904.3" y2="714.8" stroke="#3a3a3a" stroke-width="1.2"/>
<text x="860.80" y="722.80" font-size="22.64" font-weight="normal" textLength="35.81" lengthAdjust="spacingAndGlyphs" fill="#1a1a1a" stroke="#1a1a1a" stroke-width="0.35">0.0</text>
<line x1="900.3" y1="762.9" x2="904.3" y2="762.9" stroke="#3a3a3a" stroke-width="1.2"/>
<text x="841.32" y="770.90" font-size="22.64" font-weight="normal" textLength="55.46" lengthAdjust="spacingAndGlyphs" fill="#1a1a1a" stroke="#1a1a1a" stroke-width="0.35">−0.5</text>
<line x1="919.7" y1="763.3" x2="919.7" y2="767.5" stroke="#3a3a3a" stroke-width="1.2"/>
<text x="890.07" y="788.30" font-size="22.64" font-weight="normal" textLength="61.31" lengthAdjust="spacingAndGlyphs" fill="#1a1a1a" stroke="#1a1a1a" stroke-width="0.35">−400</text>
<line x1="1020.6" y1="763.3" x2="1020.6" y2="767.5" stroke="#3a3a3a" stroke-width="1.2"/>
<text x="990.05" y="788.30" font-size="22.64" font-weight="normal" textLength="61.93" lengthAdjust="spacingAndGlyphs" fill="#1a1a1a" stroke="#1a1a1a" stroke-width="0.35">−200</text>
<line x1="1121.7" y1="763.3" x2="1121.7" y2="767.5" stroke="#3a3a3a" stroke-width="1.2"/>
<text x="1115.70" y="788.30" font-size="22.64" font-weight="normal" textLength="12.80" lengthAdjust="spacingAndGlyphs" fill="#1a1a1a" stroke="#1a1a1a" stroke-width="0.35">0</text>
<line x1="1223.1" y1="763.3" x2="1223.1" y2="767.5" stroke="#3a3a3a" stroke-width="1.2"/>
<text x="1201.08" y="788.30" font-size="22.64" font-weight="normal" textLength="44.06" lengthAdjust="spacingAndGlyphs" fill="#1a1a1a" stroke="#1a1a1a" stroke-width="0.35">200</text>
<text x="970.74" y="813.50" font-size="23.98" font-weight="normal" textLength="200.56" lengthAdjust="spacingAndGlyphs" fill="#1a1a1a" stroke="#1a1a1a" stroke-width="0.35">Pressure (daPa)</text>
<text transform="translate(805.00,691.40) rotate(-90)" x="-0.06" y="0" font-size="25.38" font-weight="normal" textLength="144.64" lengthAdjust="spacingAndGlyphs" fill="#1a1a1a" stroke="#1a1a1a" stroke-width="0.35">Admittance</text>
<text transform="translate(832.50,649.20) rotate(-90)" x="-1.78" y="0" font-size="21.66" font-weight="normal" textLength="58.86" lengthAdjust="spacingAndGlyphs" fill="#1a1a1a" stroke="#1a1a1a" stroke-width="0.35">(mL)</text>
<polyline points="918.9,738.2 930.7,738.2 947.6,736.5 956.1,738.6 964.5,738.6 974.0,736.2 984.8,738.6 993.3,736.5 1003.4,734.5 1013.6,734.8 1022.0,730.8 1033.9,725.0 1042.3,718.9 1050.8,712.2 1060.9,705.4 1071.1,693.6 1079.5,678.4 1084.6,670.9 1089.7,659.8 1098.1,651.3 1101.5,644.5 1106.6,637.8 1115.0,625.9 1118.4,627.6 1125.2,641.2 1130.3,649.6 1135.3,663.1 1138.7,664.8 1145.5,674.3 1160.7,683.4 1172.5,697.0 1177.6,699.7 1192.8,702.7 1204.6,708.8 1211.4,712.9 1223.3,715.6" fill="none" stroke="#000" stroke-width="1.3" stroke-linejoin="round"/>
<line x1="353.4" y1="327.4" x2="353.4" y2="769.3" stroke="#2196f3" stroke-width="2.5" stroke-dasharray="8 5.24" />
<line x1="505.1" y1="319.9" x2="505.1" y2="326.6" stroke="#2196f3" stroke-width="2.5" />
<line x1="505.1" y1="328.7" x2="505.1" y2="769.3" stroke="#2196f3" stroke-width="2.5" stroke-dasharray="7.6 5.62" />
</svg></body></html>
